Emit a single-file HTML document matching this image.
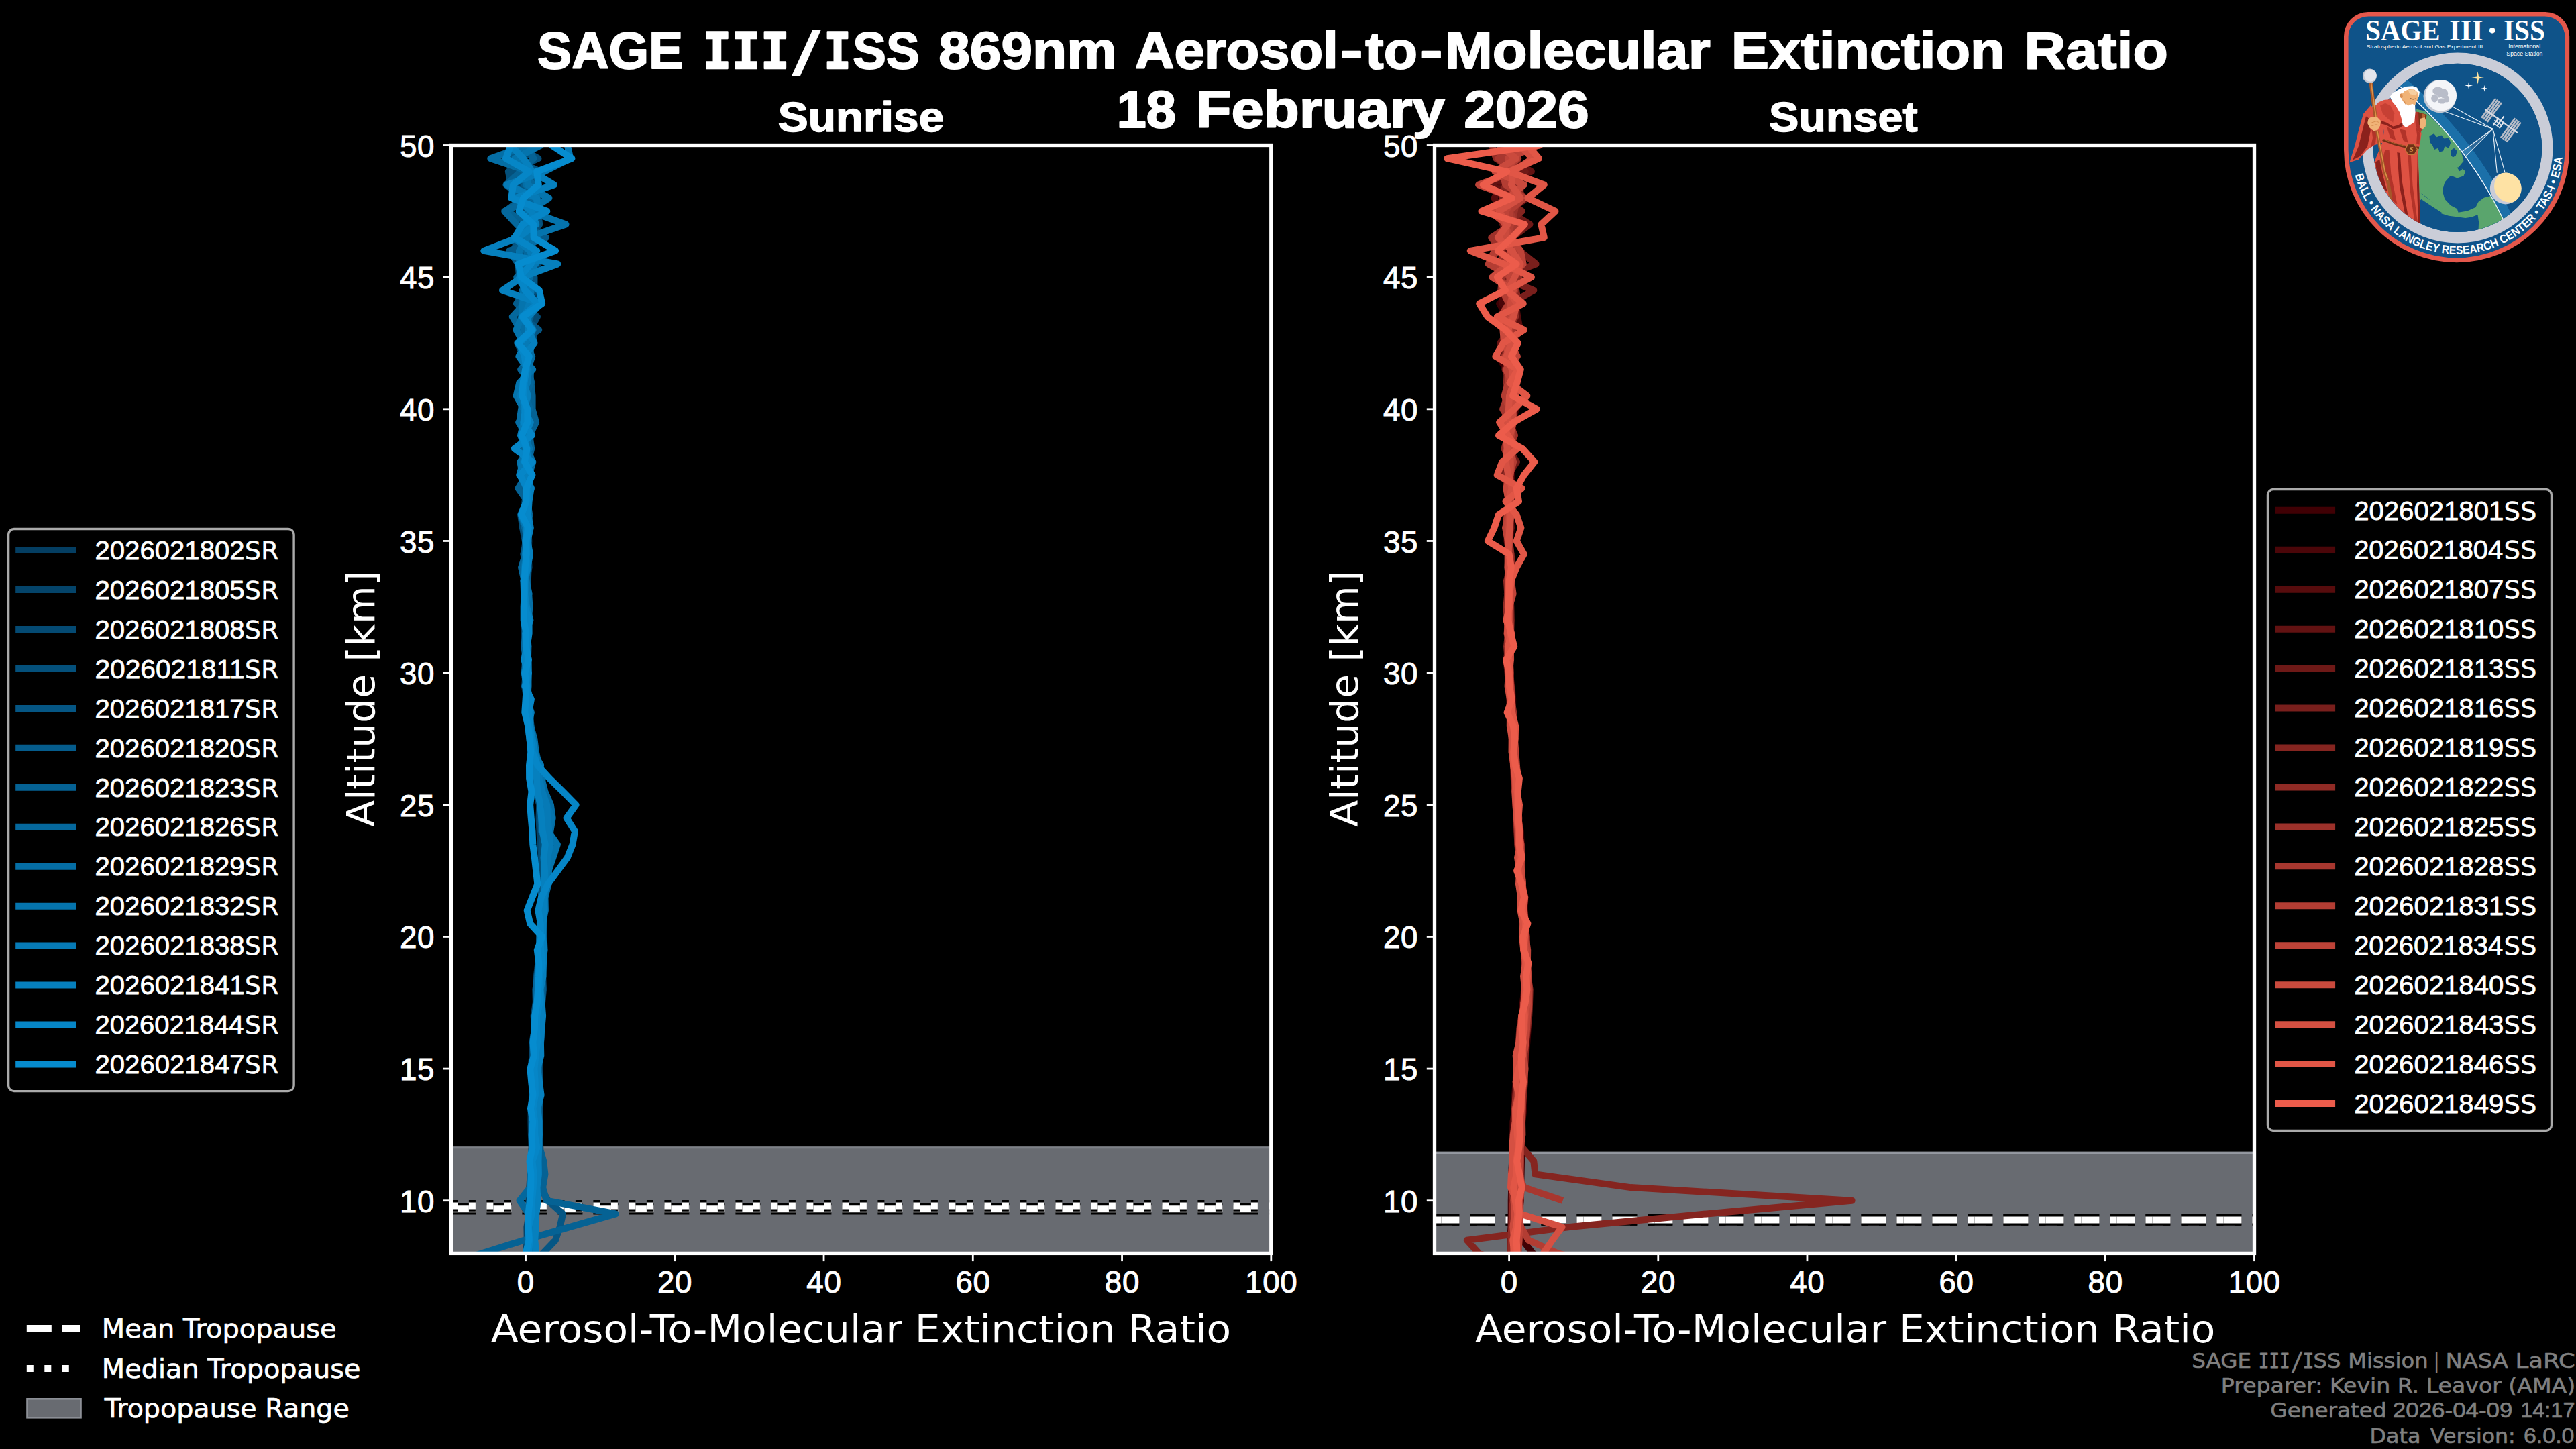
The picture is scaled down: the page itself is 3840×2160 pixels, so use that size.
<!DOCTYPE html>
<html lang="en"><head><meta charset="utf-8"><title>SAGE III/ISS 869nm Aerosol-to-Molecular Extinction Ratio</title>
<style>html,body{margin:0;padding:0;background:#000;overflow:hidden}svg{display:block}</style></head>
<body>
<svg width="3840" height="2160" viewBox="0 0 3840 2160">
<defs>
<clipPath id="cL"><rect x="672.4" y="216.5" width="1222.4" height="1651.9"/></clipPath>
<clipPath id="cR"><rect x="2138.5" y="216.5" width="1222.0" height="1651.9"/></clipPath>
</defs>
<rect width="3840" height="2160" fill="#000"/>
<g clip-path="url(#cL)">
<rect x="672.4" y="1710.4" width="1222.4" height="163.0" fill="#686b71"/>
<rect x="672.4" y="1708.71" width="1222.4" height="1.7" fill="#6a6d72"/>
<rect x="672.4" y="1710.41" width="1222.4" height="1.7" fill="#9da1aa"/>
<line x1="672.4" x2="1894.8" y1="1802.21" y2="1802.21" stroke="#000" stroke-width="16.67" stroke-dasharray="37 16"/>
<line x1="672.4" x2="1894.8" y1="1802.21" y2="1802.21" stroke="#fff" stroke-width="10" stroke-dasharray="37 16"/>
<line x1="672.4" x2="1894.8" y1="1797.41" y2="1797.41" stroke="#000" stroke-width="16.67" stroke-dasharray="10 16.5"/>
<line x1="672.4" x2="1894.8" y1="1797.41" y2="1797.41" stroke="#fff" stroke-width="10" stroke-dasharray="10 16.5"/>
<g fill="none" stroke-width="10" stroke-linejoin="round" stroke-linecap="butt">
<polyline points="794.1,1907.7 796.0,1888.1 796.7,1868.4 796.6,1848.7 798.0,1829.1 799.1,1809.4 801.2,1789.7 801.5,1770.1 803.0,1750.4 801.8,1730.7 805.3,1711.1 804.0,1691.4 804.6,1671.7 804.0,1652.1 803.8,1632.4 804.5,1612.7 804.7,1593.1 805.0,1573.4 806.2,1553.8 808.0,1534.1 807.8,1514.4 807.9,1494.8 810.1,1475.1 809.3,1455.4 808.4,1435.8 809.3,1416.1 809.6,1396.4 809.2,1376.8 809.4,1357.1 810.3,1337.4 811.6,1317.8 810.3,1298.1 807.7,1278.4 807.9,1258.8 806.7,1239.1 804.8,1219.4 804.4,1199.8 801.5,1180.1 799.0,1160.4 795.4,1140.8 794.5,1121.1 791.8,1101.4 791.0,1081.8 788.2,1062.1 787.6,1042.5 786.5,1022.8 784.5,1003.1 786.5,983.5 787.0,963.8 785.3,944.1 788.2,924.5 787.4,904.8 787.2,885.1 786.8,865.5 787.8,845.8 783.8,826.1 787.3,806.5 787.4,786.8 781.7,767.1 787.0,747.5 785.2,727.8 788.6,708.1 784.4,688.5 785.9,668.8 787.2,649.1 782.5,629.5 788.3,609.8 785.4,590.1 788.0,570.5 783.3,550.8 791.3,531.1 789.0,511.5 784.7,491.8 789.7,472.2 794.4,452.5 799.0,432.8 773.0,413.2 793.4,393.5 790.1,373.8 784.5,354.2 774.1,334.5 800.4,314.8 769.8,295.2 792.8,275.5 803.1,255.8 762.8,236.2 780.9,216.5 766.1,196.8 788.9,177.2" stroke="#043e62"/>
<polyline points="782.0,1907.7 783.6,1888.1 784.1,1868.4 785.8,1848.7 785.4,1829.1 788.6,1809.4 788.4,1789.7 789.3,1770.1 790.6,1750.4 791.1,1730.7 792.7,1711.1 791.9,1691.4 791.5,1671.7 791.7,1652.1 793.5,1632.4 792.5,1612.7 791.4,1593.1 793.5,1573.4 793.3,1553.8 797.3,1534.1 795.6,1514.4 798.8,1494.8 800.5,1475.1 799.8,1455.4 802.3,1435.8 803.9,1416.1 804.6,1396.4 805.1,1376.8 807.3,1357.1 807.0,1337.4 807.6,1317.8 807.2,1298.1 807.1,1278.4 805.5,1258.8 804.5,1239.1 803.5,1219.4 804.2,1199.8 798.2,1180.1 798.2,1160.4 794.6,1140.8 791.2,1121.1 789.6,1101.4 787.0,1081.8 786.3,1062.1 785.5,1042.5 782.0,1022.8 783.7,1003.1 782.2,983.5 782.6,963.8 781.4,944.1 781.2,924.5 782.0,904.8 784.8,885.1 786.3,865.5 783.4,845.8 785.5,826.1 782.8,806.5 779.0,786.8 783.7,767.1 784.6,747.5 781.9,727.8 784.4,708.1 785.4,688.5 780.0,668.8 777.4,649.1 782.3,629.5 782.3,609.8 781.6,590.1 788.0,570.5 792.0,550.8 780.9,531.1 787.2,511.5 789.1,491.8 788.0,472.2 790.9,452.5 780.0,432.8 789.4,413.2 802.2,393.5 791.4,373.8 776.1,354.2 790.4,334.5 799.1,314.8 787.9,295.2 775.2,275.5 805.3,255.8 764.2,236.2 790.9,216.5 782.7,196.8 764.3,177.2" stroke="#04446a"/>
<polyline points="793.3,1907.7 794.4,1888.1 794.8,1868.4 793.7,1848.7 794.0,1829.1 797.8,1809.4 798.6,1789.7 800.2,1770.1 800.1,1750.4 801.2,1730.7 800.5,1711.1 802.3,1691.4 801.5,1671.7 802.2,1652.1 802.3,1632.4 801.8,1612.7 802.2,1593.1 803.0,1573.4 804.8,1553.8 805.7,1534.1 805.8,1514.4 806.6,1494.8 809.5,1475.1 808.1,1455.4 809.3,1435.8 809.1,1416.1 808.5,1396.4 808.8,1376.8 810.2,1357.1 811.1,1337.4 812.7,1317.8 811.2,1298.1 809.7,1278.4 811.1,1258.8 812.8,1239.1 805.0,1219.4 807.6,1199.8 802.6,1180.1 799.3,1160.4 796.9,1140.8 794.6,1121.1 793.7,1101.4 790.2,1081.8 789.4,1062.1 788.1,1042.5 785.9,1022.8 786.5,1003.1 785.5,983.5 784.6,963.8 785.7,944.1 785.4,924.5 787.0,904.8 785.6,885.1 784.7,865.5 788.5,845.8 787.6,826.1 788.3,806.5 787.1,786.8 785.2,767.1 784.2,747.5 784.5,727.8 789.1,708.1 785.9,688.5 779.4,668.8 785.2,649.1 779.2,629.5 786.1,609.8 779.5,590.1 778.8,570.5 785.9,550.8 784.8,531.1 775.2,511.5 790.2,491.8 800.9,472.2 773.5,452.5 800.6,432.8 778.9,413.2 780.2,393.5 783.1,373.8 767.9,354.2 801.7,334.5 791.7,314.8 774.4,295.2 780.9,275.5 761.7,255.8 779.4,236.2 800.5,216.5 761.3,196.8 777.6,177.2" stroke="#044a73"/>
<polyline points="783.8,1907.7 784.6,1888.1 786.8,1868.4 787.9,1848.7 789.4,1829.1 791.1,1809.4 790.0,1789.7 791.6,1770.1 793.1,1750.4 792.5,1730.7 794.1,1711.1 795.6,1691.4 795.7,1671.7 795.7,1652.1 794.7,1632.4 794.4,1612.7 795.7,1593.1 795.4,1573.4 797.2,1553.8 799.2,1534.1 798.7,1514.4 799.9,1494.8 801.8,1475.1 803.3,1455.4 804.0,1435.8 804.5,1416.1 805.9,1396.4 804.8,1376.8 807.2,1357.1 809.1,1337.4 810.3,1317.8 809.2,1298.1 807.5,1278.4 807.6,1258.8 811.1,1239.1 807.8,1219.4 805.0,1199.8 805.7,1180.1 798.4,1160.4 798.2,1140.8 794.1,1121.1 789.4,1101.4 788.0,1081.8 786.2,1062.1 786.8,1042.5 783.6,1022.8 785.7,1003.1 784.8,983.5 781.0,963.8 785.2,944.1 786.6,924.5 782.6,904.8 785.8,885.1 780.4,865.5 784.4,845.8 780.3,826.1 785.0,806.5 779.2,786.8 776.1,767.1 785.2,747.5 792.2,727.8 781.4,708.1 787.3,688.5 784.3,668.8 782.3,649.1 786.6,629.5 791.6,609.8 777.4,590.1 786.8,570.5 785.7,550.8 775.0,531.1 794.0,511.5 797.4,491.8 776.3,472.2 798.1,452.5 784.1,432.8 782.0,413.2 799.5,393.5 786.2,373.8 787.6,354.2 804.2,334.5 801.9,314.8 796.8,295.2 761.6,275.5 757.9,255.8 802.5,236.2 767.1,216.5 786.0,196.8 764.5,177.2" stroke="#04507b"/>
<polyline points="772.4,1907.7 789.1,1888.1 809.1,1868.4 828.0,1848.7 834.6,1829.1 839.1,1809.4 816.9,1789.7 805.8,1770.1 797.8,1750.4 797.4,1730.7 800.1,1711.1 800.3,1691.4 800.6,1671.7 799.7,1652.1 800.9,1632.4 801.0,1612.7 798.6,1593.1 802.2,1573.4 802.0,1553.8 802.4,1534.1 803.8,1514.4 807.0,1494.8 807.0,1475.1 804.7,1455.4 807.1,1435.8 807.4,1416.1 807.8,1396.4 808.2,1376.8 808.2,1357.1 811.2,1337.4 810.1,1317.8 813.4,1298.1 816.3,1278.4 815.8,1258.8 816.4,1239.1 814.6,1219.4 818.0,1199.8 806.0,1180.1 804.5,1160.4 803.2,1140.8 795.4,1121.1 792.8,1101.4 790.1,1081.8 788.6,1062.1 787.6,1042.5 784.0,1022.8 787.5,1003.1 784.1,983.5 784.4,963.8 787.4,944.1 785.6,924.5 785.2,904.8 784.0,885.1 781.9,865.5 785.5,845.8 787.8,826.1 782.9,806.5 788.8,786.8 781.5,767.1 782.5,747.5 786.9,727.8 785.0,708.1 788.0,688.5 781.5,668.8 780.0,649.1 775.7,629.5 778.8,609.8 779.0,590.1 776.6,570.5 786.7,550.8 780.5,531.1 771.3,511.5 803.2,491.8 778.0,472.2 773.7,452.5 796.4,432.8 796.5,413.2 771.8,393.5 766.6,373.8 771.3,354.2 800.8,334.5 779.9,314.8 771.8,295.2 784.1,275.5 805.2,255.8 759.6,236.2 777.3,216.5 761.3,196.8 824.8,177.2" stroke="#055684"/>
<polyline points="787.8,1907.7 786.1,1888.1 785.8,1868.4 788.8,1848.7 790.2,1829.1 793.1,1809.4 795.3,1789.7 792.4,1770.1 797.3,1750.4 797.2,1730.7 797.2,1711.1 796.7,1691.4 798.9,1671.7 796.4,1652.1 795.8,1632.4 796.5,1612.7 794.9,1593.1 797.9,1573.4 798.4,1553.8 800.0,1534.1 801.2,1514.4 800.9,1494.8 804.7,1475.1 802.9,1455.4 805.7,1435.8 803.9,1416.1 806.8,1396.4 806.7,1376.8 808.8,1357.1 807.5,1337.4 804.8,1317.8 817.8,1298.1 817.1,1278.4 815.7,1258.8 807.0,1239.1 806.4,1219.4 814.5,1199.8 798.2,1180.1 801.3,1160.4 799.3,1140.8 796.0,1121.1 793.4,1101.4 789.9,1081.8 787.3,1062.1 786.5,1042.5 785.1,1022.8 782.5,1003.1 785.8,983.5 784.6,963.8 783.6,944.1 787.0,924.5 785.9,904.8 786.1,885.1 787.0,865.5 786.0,845.8 781.3,826.1 783.4,806.5 787.2,786.8 781.8,767.1 784.4,747.5 785.9,727.8 790.7,708.1 790.3,688.5 788.5,668.8 783.3,649.1 788.9,629.5 787.0,609.8 783.3,590.1 792.4,570.5 787.3,550.8 779.0,531.1 793.1,511.5 782.1,491.8 789.2,472.2 770.0,452.5 783.9,432.8 774.0,413.2 772.6,393.5 759.4,373.8 814.1,354.2 781.8,334.5 787.8,314.8 802.4,295.2 781.9,275.5 793.3,255.8 758.4,236.2 787.8,216.5 775.9,196.8 793.7,177.2" stroke="#055c8c"/>
<polyline points="594.6,1907.7 655.7,1888.1 718.0,1868.4 781.3,1848.7 849.1,1829.1 918.0,1809.4 814.6,1789.7 809.1,1770.1 812.4,1750.4 810.2,1730.7 804.6,1711.1 802.2,1691.4 803.8,1671.7 803.6,1652.1 805.2,1632.4 804.1,1612.7 803.2,1593.1 803.7,1573.4 805.4,1553.8 806.1,1534.1 805.9,1514.4 808.1,1494.8 808.7,1475.1 808.8,1455.4 808.8,1435.8 811.6,1416.1 810.6,1396.4 810.9,1376.8 808.6,1357.1 811.6,1337.4 816.8,1317.8 818.1,1298.1 818.3,1278.4 817.9,1258.8 817.9,1239.1 817.0,1219.4 814.9,1199.8 804.7,1180.1 806.9,1160.4 798.8,1140.8 795.7,1121.1 793.1,1101.4 791.6,1081.8 789.2,1062.1 786.8,1042.5 786.2,1022.8 786.3,1003.1 786.9,983.5 787.5,963.8 785.8,944.1 783.4,924.5 788.9,904.8 786.6,885.1 786.8,865.5 786.6,845.8 783.3,826.1 785.0,806.5 786.6,786.8 789.3,767.1 786.0,747.5 772.5,727.8 784.6,708.1 787.4,688.5 792.2,668.8 789.4,649.1 799.1,629.5 793.6,609.8 793.6,590.1 791.5,570.5 776.2,550.8 791.5,531.1 790.0,511.5 781.1,491.8 790.7,472.2 789.5,452.5 780.5,432.8 784.0,413.2 782.1,393.5 788.4,373.8 779.1,354.2 793.9,334.5 753.3,314.8 780.3,295.2 754.5,275.5 776.0,255.8 795.4,236.2 785.6,216.5 782.8,196.8 786.5,177.2" stroke="#056294"/>
<polyline points="783.8,1907.7 784.3,1888.1 785.8,1868.4 787.4,1848.7 788.3,1829.1 788.0,1809.4 774.6,1789.7 790.2,1770.1 793.5,1750.4 795.0,1730.7 793.5,1711.1 793.5,1691.4 795.2,1671.7 795.2,1652.1 793.9,1632.4 794.4,1612.7 792.6,1593.1 795.3,1573.4 794.8,1553.8 796.7,1534.1 797.8,1514.4 798.9,1494.8 798.5,1475.1 800.9,1455.4 803.3,1435.8 803.8,1416.1 804.3,1396.4 807.9,1376.8 808.3,1357.1 812.2,1337.4 815.4,1317.8 813.8,1298.1 812.9,1278.4 820.8,1258.8 817.0,1239.1 812.3,1219.4 809.0,1199.8 810.8,1180.1 806.8,1160.4 798.8,1140.8 795.6,1121.1 795.2,1101.4 788.3,1081.8 787.4,1062.1 785.0,1042.5 784.5,1022.8 783.8,1003.1 785.6,983.5 781.2,963.8 783.7,944.1 787.0,924.5 782.6,904.8 783.2,885.1 781.5,865.5 777.1,845.8 783.3,826.1 786.8,806.5 782.1,786.8 776.9,767.1 784.6,747.5 783.9,727.8 788.4,708.1 788.1,688.5 782.0,668.8 785.6,649.1 773.2,629.5 789.9,609.8 784.5,590.1 790.6,570.5 790.8,550.8 781.2,531.1 782.1,511.5 775.7,491.8 763.8,472.2 781.9,452.5 784.9,432.8 770.4,413.2 792.3,393.5 784.5,373.8 790.0,354.2 770.2,334.5 752.2,314.8 797.2,295.2 794.6,275.5 780.7,255.8 774.2,236.2 776.9,216.5 779.9,196.8 771.9,177.2" stroke="#05689d"/>
<polyline points="792.2,1907.7 791.1,1888.1 790.4,1868.4 794.7,1848.7 795.7,1829.1 799.1,1809.4 799.2,1789.7 799.2,1770.1 801.2,1750.4 798.6,1730.7 801.0,1711.1 800.4,1691.4 802.9,1671.7 801.5,1652.1 797.0,1632.4 802.4,1612.7 799.6,1593.1 802.8,1573.4 802.4,1553.8 804.4,1534.1 806.0,1514.4 806.3,1494.8 805.8,1475.1 809.0,1455.4 808.2,1435.8 808.2,1416.1 809.4,1396.4 808.6,1376.8 812.9,1357.1 812.5,1337.4 817.5,1317.8 818.0,1298.1 819.5,1278.4 817.6,1258.8 820.4,1239.1 823.7,1219.4 820.9,1199.8 812.4,1180.1 807.4,1160.4 803.4,1140.8 798.9,1121.1 796.4,1101.4 791.0,1081.8 787.6,1062.1 789.5,1042.5 785.5,1022.8 786.5,1003.1 782.8,983.5 787.0,963.8 783.9,944.1 787.8,924.5 789.4,904.8 788.2,885.1 782.5,865.5 782.9,845.8 783.0,826.1 787.3,806.5 786.5,786.8 785.9,767.1 786.6,747.5 788.0,727.8 788.6,708.1 794.3,688.5 785.0,668.8 786.4,649.1 774.2,629.5 777.1,609.8 780.6,590.1 776.9,570.5 786.8,550.8 793.2,531.1 781.5,511.5 780.7,491.8 780.0,472.2 786.4,452.5 778.8,432.8 790.2,413.2 789.0,393.5 790.0,373.8 797.2,354.2 785.4,334.5 787.5,314.8 818.4,295.2 783.9,275.5 789.1,255.8 731.3,236.2 786.9,216.5 774.4,196.8 766.2,177.2" stroke="#056ea5"/>
<polyline points="785.2,1907.7 787.4,1888.1 788.2,1868.4 787.4,1848.7 791.7,1829.1 789.7,1809.4 792.0,1789.7 793.7,1770.1 796.2,1750.4 794.4,1730.7 796.0,1711.1 797.3,1691.4 796.5,1671.7 797.1,1652.1 797.0,1632.4 796.0,1612.7 796.5,1593.1 798.0,1573.4 797.9,1553.8 801.0,1534.1 797.6,1514.4 800.2,1494.8 804.5,1475.1 804.0,1455.4 803.5,1435.8 805.6,1416.1 807.9,1396.4 806.6,1376.8 810.4,1357.1 811.6,1337.4 814.5,1317.8 817.6,1298.1 824.4,1278.4 830.9,1258.8 817.2,1239.1 822.7,1219.4 815.1,1199.8 807.6,1180.1 808.3,1160.4 799.7,1140.8 796.2,1121.1 793.8,1101.4 787.3,1081.8 791.9,1062.1 785.0,1042.5 784.5,1022.8 781.8,1003.1 783.4,983.5 787.2,963.8 784.2,944.1 785.4,924.5 783.0,904.8 788.5,885.1 784.5,865.5 780.6,845.8 786.2,826.1 782.9,806.5 786.0,786.8 784.4,767.1 785.0,747.5 784.4,727.8 778.9,708.1 775.4,688.5 789.3,668.8 782.8,649.1 785.4,629.5 780.6,609.8 769.7,590.1 774.2,570.5 794.2,550.8 777.0,531.1 780.1,511.5 769.5,491.8 777.8,472.2 779.0,452.5 780.4,432.8 782.0,413.2 774.0,393.5 773.9,373.8 785.7,354.2 843.5,334.5 789.1,314.8 817.1,295.2 786.6,275.5 785.7,255.8 767.3,236.2 806.2,216.5 761.3,196.8 761.3,177.2" stroke="#0574ad"/>
<polyline points="789.4,1907.7 788.5,1888.1 790.6,1868.4 790.5,1848.7 793.4,1829.1 794.0,1809.4 794.6,1789.7 794.0,1770.1 798.9,1750.4 799.0,1730.7 799.6,1711.1 797.5,1691.4 797.9,1671.7 800.6,1652.1 799.4,1632.4 797.3,1612.7 798.5,1593.1 799.7,1573.4 800.4,1553.8 800.5,1534.1 804.5,1514.4 804.7,1494.8 804.7,1475.1 803.4,1455.4 805.4,1435.8 806.5,1416.1 809.1,1396.4 807.9,1376.8 811.9,1357.1 811.7,1337.4 813.9,1317.8 814.9,1298.1 816.3,1278.4 820.4,1258.8 818.4,1239.1 816.3,1219.4 815.3,1199.8 808.5,1180.1 803.4,1160.4 806.1,1140.8 795.1,1121.1 791.0,1101.4 789.5,1081.8 786.8,1062.1 788.1,1042.5 786.6,1022.8 787.8,1003.1 787.0,983.5 786.6,963.8 787.5,944.1 784.1,924.5 783.6,904.8 784.6,885.1 781.3,865.5 784.2,845.8 783.7,826.1 786.7,806.5 784.5,786.8 776.7,767.1 784.6,747.5 791.6,727.8 774.2,708.1 780.0,688.5 784.4,668.8 776.0,649.1 780.7,629.5 784.6,609.8 774.8,590.1 786.4,570.5 787.4,550.8 773.4,531.1 784.3,511.5 794.6,491.8 782.1,472.2 788.9,452.5 791.9,432.8 780.7,413.2 798.2,393.5 789.9,373.8 766.3,354.2 793.4,334.5 800.7,314.8 800.2,295.2 755.7,275.5 811.3,255.8 850.2,236.2 845.8,216.5 839.1,196.8 815.2,177.2" stroke="#067ab6"/>
<polyline points="791.3,1907.7 795.9,1888.1 799.1,1868.4 797.3,1848.7 798.5,1829.1 799.2,1809.4 801.5,1789.7 800.5,1770.1 802.9,1750.4 802.5,1730.7 803.1,1711.1 803.9,1691.4 803.6,1671.7 801.3,1652.1 806.6,1632.4 803.9,1612.7 801.3,1593.1 806.3,1573.4 805.9,1553.8 807.3,1534.1 809.1,1514.4 807.6,1494.8 805.4,1475.1 809.5,1455.4 810.0,1435.8 811.2,1416.1 809.1,1396.4 809.7,1376.8 810.9,1357.1 811.2,1337.4 811.8,1317.8 812.0,1298.1 810.5,1278.4 812.8,1258.8 808.8,1239.1 807.1,1219.4 805.3,1199.8 801.3,1180.1 800.0,1160.4 800.0,1140.8 797.2,1121.1 793.7,1101.4 789.8,1081.8 790.7,1062.1 786.0,1042.5 787.5,1022.8 787.4,1003.1 787.6,983.5 784.0,963.8 783.0,944.1 790.4,924.5 785.1,904.8 782.0,885.1 782.9,865.5 786.4,845.8 790.0,826.1 786.3,806.5 790.8,786.8 787.3,767.1 788.6,747.5 791.6,727.8 784.2,708.1 788.2,688.5 784.0,668.8 782.3,649.1 790.8,629.5 780.7,609.8 787.0,590.1 780.2,570.5 785.6,550.8 781.7,531.1 796.5,511.5 787.2,491.8 787.3,472.2 806.3,452.5 749.0,432.8 778.0,413.2 831.3,393.5 721.3,373.8 772.4,354.2 799.1,334.5 792.0,314.8 767.7,295.2 826.0,275.5 793.6,255.8 780.0,236.2 761.3,216.5 797.0,196.8 773.7,177.2" stroke="#0680be"/>
<polyline points="786.4,1907.7 787.9,1888.1 787.8,1868.4 789.5,1848.7 787.9,1829.1 792.8,1809.4 793.1,1789.7 794.7,1770.1 795.8,1750.4 793.4,1730.7 800.4,1711.1 797.2,1691.4 797.2,1671.7 794.4,1652.1 797.9,1632.4 797.6,1612.7 796.5,1593.1 798.5,1573.4 801.1,1553.8 799.9,1534.1 800.2,1514.4 804.6,1494.8 804.3,1475.1 804.3,1455.4 808.5,1435.8 806.1,1416.1 806.2,1396.4 805.8,1376.8 802.4,1357.1 806.9,1337.4 816.9,1317.8 831.3,1298.1 845.8,1278.4 853.5,1258.8 856.9,1239.1 844.6,1219.4 858.5,1199.8 839.1,1180.1 819.1,1160.4 801.3,1140.8 793.5,1121.1 791.3,1101.4 790.2,1081.8 788.2,1062.1 791.9,1042.5 782.4,1022.8 787.7,1003.1 781.2,983.5 785.6,963.8 788.6,944.1 788.5,924.5 782.3,904.8 781.1,885.1 780.5,865.5 786.9,845.8 783.4,826.1 784.7,806.5 785.6,786.8 786.5,767.1 787.3,747.5 785.3,727.8 775.0,708.1 793.7,688.5 766.8,668.8 792.9,649.1 780.4,629.5 783.1,609.8 780.6,590.1 781.5,570.5 784.4,550.8 782.0,531.1 774.0,511.5 793.5,491.8 777.9,472.2 801.4,452.5 782.5,432.8 774.5,413.2 791.6,393.5 800.1,373.8 767.3,354.2 779.0,334.5 815.3,314.8 762.4,295.2 764.9,275.5 788.9,255.8 754.0,236.2 761.3,216.5 761.3,196.8 794.7,177.2" stroke="#0686c7"/>
<polyline points="781.8,1907.7 781.9,1888.1 783.7,1868.4 788.6,1848.7 787.4,1829.1 787.6,1809.4 789.9,1789.7 791.2,1770.1 791.5,1750.4 789.5,1730.7 793.4,1711.1 792.7,1691.4 794.3,1671.7 791.0,1652.1 794.6,1632.4 792.2,1612.7 790.4,1593.1 796.1,1573.4 794.4,1553.8 796.9,1534.1 797.2,1514.4 800.6,1494.8 802.1,1475.1 803.1,1455.4 803.4,1435.8 800.8,1416.1 808.0,1396.4 790.2,1376.8 785.7,1357.1 793.5,1337.4 801.3,1317.8 799.1,1298.1 796.9,1278.4 794.3,1258.8 793.5,1239.1 791.7,1219.4 790.2,1199.8 792.5,1180.1 789.1,1160.4 789.0,1140.8 791.4,1121.1 789.5,1101.4 787.1,1081.8 782.3,1062.1 783.6,1042.5 784.8,1022.8 782.4,1003.1 787.9,983.5 783.8,963.8 784.3,944.1 780.7,924.5 780.7,904.8 781.6,885.1 781.6,865.5 782.8,845.8 784.8,826.1 784.3,806.5 787.6,786.8 777.2,767.1 784.5,747.5 784.8,727.8 793.4,708.1 782.0,688.5 785.6,668.8 777.6,649.1 786.4,629.5 786.3,609.8 778.3,590.1 779.6,570.5 783.0,550.8 788.8,531.1 771.7,511.5 793.0,491.8 779.2,472.2 808.1,452.5 803.8,432.8 777.1,413.2 772.7,393.5 828.0,373.8 795.6,354.2 795.3,334.5 773.6,314.8 780.0,295.2 802.8,275.5 800.2,255.8 852.4,236.2 822.4,216.5 805.8,196.8 761.3,177.2" stroke="#068ccf"/>
</g></g>
<rect x="672.4" y="216.5" width="1222.4" height="1651.9" fill="none" stroke="#fff" stroke-width="5.33"/>
<g stroke="#fff" stroke-width="2.8">
<line x1="660.7" x2="672.4" y1="1789.74" y2="1789.74"/>
<line x1="660.7" x2="672.4" y1="1593.08" y2="1593.08"/>
<line x1="660.7" x2="672.4" y1="1396.43" y2="1396.43"/>
<line x1="660.7" x2="672.4" y1="1199.77" y2="1199.77"/>
<line x1="660.7" x2="672.4" y1="1003.12" y2="1003.12"/>
<line x1="660.7" x2="672.4" y1="806.46" y2="806.46"/>
<line x1="660.7" x2="672.4" y1="609.81" y2="609.81"/>
<line x1="660.7" x2="672.4" y1="413.15" y2="413.15"/>
<line x1="660.7" x2="672.4" y1="216.50" y2="216.50"/>
<line x1="783.53" x2="783.53" y1="1868.4" y2="1880.1"/>
<line x1="1005.78" x2="1005.78" y1="1868.4" y2="1880.1"/>
<line x1="1228.04" x2="1228.04" y1="1868.4" y2="1880.1"/>
<line x1="1450.29" x2="1450.29" y1="1868.4" y2="1880.1"/>
<line x1="1672.55" x2="1672.55" y1="1868.4" y2="1880.1"/>
<line x1="1894.80" x2="1894.80" y1="1868.4" y2="1880.1"/>
</g>
<g fill="#fff" stroke="#fff" stroke-width="1.0" font-family="'Liberation Sans', sans-serif" font-size="45.7" letter-spacing="0.7">
<text x="648.1" y="1806.7" text-anchor="end">10</text>
<text x="648.1" y="1610.1" text-anchor="end">15</text>
<text x="648.1" y="1413.4" text-anchor="end">20</text>
<text x="648.1" y="1216.8" text-anchor="end">25</text>
<text x="648.1" y="1020.1" text-anchor="end">30</text>
<text x="648.1" y="823.5" text-anchor="end">35</text>
<text x="648.1" y="626.8" text-anchor="end">40</text>
<text x="648.1" y="430.2" text-anchor="end">45</text>
<text x="648.1" y="233.5" text-anchor="end">50</text>
<text x="783.9" y="1926.9" text-anchor="middle">0</text>
<text x="1006.1" y="1926.9" text-anchor="middle">20</text>
<text x="1228.4" y="1926.9" text-anchor="middle">40</text>
<text x="1450.6" y="1926.9" text-anchor="middle">60</text>
<text x="1672.9" y="1926.9" text-anchor="middle">80</text>
<text x="1895.2" y="1926.9" text-anchor="middle">100</text>
</g>
<g clip-path="url(#cR)">
<rect x="2138.5" y="1718.2" width="1222.0" height="155.2" fill="#686b71"/>
<rect x="2138.5" y="1716.46" width="1222.0" height="1.7" fill="#6a6d72"/>
<rect x="2138.5" y="1718.16" width="1222.0" height="1.7" fill="#9da1aa"/>
<line x1="2138.5" x2="3360.5" y1="1818.45" y2="1818.45" stroke="#000" stroke-width="16.67" stroke-dasharray="37 16"/>
<line x1="2138.5" x2="3360.5" y1="1818.45" y2="1818.45" stroke="#fff" stroke-width="10" stroke-dasharray="37 16"/>
<line x1="2138.5" x2="3360.5" y1="1818.45" y2="1818.45" stroke="#000" stroke-width="16.67" stroke-dasharray="10 16.5"/>
<line x1="2138.5" x2="3360.5" y1="1818.45" y2="1818.45" stroke="#fff" stroke-width="10" stroke-dasharray="10 16.5"/>
<g fill="none" stroke-width="10" stroke-linejoin="round" stroke-linecap="butt">
<polyline points="2327.4,1907.7 2305.1,1888.1 2285.1,1868.4 2269.6,1848.7 2262.9,1829.1 2264.2,1809.4 2267.0,1789.7 2267.1,1770.1 2267.6,1750.4 2268.0,1730.7 2267.9,1711.1 2268.2,1691.4 2269.3,1671.7 2271.6,1652.1 2270.9,1632.4 2272.2,1612.7 2272.7,1593.1 2274.6,1573.4 2276.4,1553.8 2277.8,1534.1 2278.3,1514.4 2279.2,1494.8 2279.9,1475.1 2278.7,1455.4 2275.8,1435.8 2275.9,1416.1 2275.9,1396.4 2273.1,1376.8 2272.5,1357.1 2273.5,1337.4 2269.3,1317.8 2267.7,1298.1 2267.4,1278.4 2267.9,1258.8 2266.9,1239.1 2263.2,1219.4 2263.4,1199.8 2261.8,1180.1 2260.2,1160.4 2257.9,1140.8 2259.1,1121.1 2256.4,1101.4 2256.2,1081.8 2254.8,1062.1 2255.3,1042.5 2253.5,1022.8 2250.1,1003.1 2251.0,983.5 2252.5,963.8 2249.8,944.1 2250.9,924.5 2251.7,904.8 2249.3,885.1 2249.7,865.5 2249.0,845.8 2251.9,826.1 2250.6,806.5 2253.2,786.8 2251.8,767.1 2252.8,747.5 2251.4,727.8 2253.6,708.1 2251.4,688.5 2248.8,668.8 2255.4,649.1 2255.0,629.5 2259.7,609.8 2251.3,590.1 2249.4,570.5 2245.5,550.8 2233.6,531.1 2245.3,511.5 2254.6,491.8 2246.7,472.2 2235.2,452.5 2256.2,432.8 2247.7,413.2 2249.2,393.5 2248.3,373.8 2250.9,354.2 2257.0,334.5 2233.7,314.8 2249.7,295.2 2246.3,275.5 2266.1,255.8 2239.1,236.2 2274.0,216.5 2260.4,196.8 2273.8,177.2" stroke="#400004"/>
<polyline points="2250.7,1907.7 2252.2,1888.1 2252.1,1868.4 2251.0,1848.7 2252.4,1829.1 2252.7,1809.4 2252.7,1789.7 2253.2,1770.1 2253.0,1750.4 2254.2,1730.7 2255.2,1711.1 2255.2,1691.4 2255.5,1671.7 2258.5,1652.1 2258.3,1632.4 2259.6,1612.7 2260.3,1593.1 2261.7,1573.4 2264.4,1553.8 2265.9,1534.1 2268.7,1514.4 2270.0,1494.8 2272.2,1475.1 2273.0,1455.4 2274.6,1435.8 2272.2,1416.1 2272.7,1396.4 2270.3,1376.8 2269.2,1357.1 2267.2,1337.4 2266.4,1317.8 2266.8,1298.1 2265.1,1278.4 2262.5,1258.8 2261.4,1239.1 2261.7,1219.4 2259.1,1199.8 2259.1,1180.1 2256.5,1160.4 2256.6,1140.8 2256.2,1121.1 2254.4,1101.4 2252.8,1081.8 2251.6,1062.1 2250.3,1042.5 2249.2,1022.8 2249.3,1003.1 2249.4,983.5 2248.6,963.8 2246.6,944.1 2247.5,924.5 2248.6,904.8 2248.3,885.1 2246.3,865.5 2249.3,845.8 2252.4,826.1 2246.3,806.5 2248.5,786.8 2251.7,767.1 2247.5,747.5 2247.4,727.8 2248.9,708.1 2250.1,688.5 2247.3,668.8 2251.7,649.1 2242.0,629.5 2251.0,609.8 2250.1,590.1 2248.0,570.5 2250.5,550.8 2248.9,531.1 2255.7,511.5 2246.1,491.8 2248.5,472.2 2239.5,452.5 2240.7,432.8 2247.0,413.2 2235.8,393.5 2241.2,373.8 2235.9,354.2 2243.8,334.5 2250.3,314.8 2260.0,295.2 2225.4,275.5 2246.5,255.8 2260.6,236.2 2268.2,216.5 2268.6,196.8 2229.4,177.2" stroke="#4b0609"/>
<polyline points="2261.4,1907.7 2262.6,1888.1 2263.2,1868.4 2263.0,1848.7 2263.4,1829.1 2263.8,1809.4 2263.4,1789.7 2264.5,1770.1 2265.4,1750.4 2264.8,1730.7 2266.5,1711.1 2264.0,1691.4 2267.1,1671.7 2269.7,1652.1 2269.9,1632.4 2271.3,1612.7 2271.2,1593.1 2271.7,1573.4 2274.0,1553.8 2276.9,1534.1 2275.3,1514.4 2277.2,1494.8 2277.7,1475.1 2277.2,1455.4 2275.8,1435.8 2275.7,1416.1 2273.5,1396.4 2274.5,1376.8 2272.4,1357.1 2270.3,1337.4 2268.6,1317.8 2267.0,1298.1 2267.2,1278.4 2267.6,1258.8 2264.6,1239.1 2262.7,1219.4 2262.3,1199.8 2260.8,1180.1 2259.3,1160.4 2257.3,1140.8 2257.6,1121.1 2257.8,1101.4 2256.4,1081.8 2255.1,1062.1 2253.2,1042.5 2252.4,1022.8 2251.8,1003.1 2250.7,983.5 2251.1,963.8 2250.3,944.1 2252.3,924.5 2249.6,904.8 2251.9,885.1 2252.2,865.5 2252.2,845.8 2252.1,826.1 2250.2,806.5 2249.9,786.8 2250.2,767.1 2250.2,747.5 2248.2,727.8 2249.9,708.1 2249.3,688.5 2248.2,668.8 2252.5,649.1 2248.5,629.5 2252.2,609.8 2257.4,590.1 2258.9,570.5 2251.5,550.8 2256.7,531.1 2252.8,511.5 2265.9,491.8 2262.3,472.2 2259.4,452.5 2250.4,432.8 2249.6,413.2 2256.5,393.5 2251.4,373.8 2249.2,354.2 2259.5,334.5 2237.4,314.8 2227.5,295.2 2238.9,275.5 2236.5,255.8 2250.8,236.2 2239.4,216.5 2249.2,196.8 2222.8,177.2" stroke="#570c0d"/>
<polyline points="2254.8,1907.7 2254.1,1888.1 2253.3,1868.4 2254.7,1848.7 2256.0,1829.1 2256.0,1809.4 2255.6,1789.7 2256.6,1770.1 2257.2,1750.4 2255.7,1730.7 2255.9,1711.1 2257.6,1691.4 2259.9,1671.7 2261.2,1652.1 2261.0,1632.4 2263.1,1612.7 2263.6,1593.1 2264.4,1573.4 2265.5,1553.8 2267.7,1534.1 2270.5,1514.4 2273.8,1494.8 2275.5,1475.1 2273.1,1455.4 2272.6,1435.8 2273.5,1416.1 2272.0,1396.4 2269.8,1376.8 2270.0,1357.1 2269.5,1337.4 2267.8,1317.8 2266.0,1298.1 2266.0,1278.4 2263.3,1258.8 2261.9,1239.1 2260.4,1219.4 2261.8,1199.8 2260.8,1180.1 2257.8,1160.4 2257.2,1140.8 2255.9,1121.1 2255.2,1101.4 2254.3,1081.8 2252.7,1062.1 2250.8,1042.5 2249.2,1022.8 2247.5,1003.1 2245.5,983.5 2248.6,963.8 2247.6,944.1 2248.8,924.5 2248.6,904.8 2247.2,885.1 2248.0,865.5 2249.5,845.8 2249.2,826.1 2247.4,806.5 2247.4,786.8 2250.3,767.1 2249.6,747.5 2249.9,727.8 2248.6,708.1 2251.4,688.5 2249.4,668.8 2258.1,649.1 2247.4,629.5 2246.4,609.8 2256.4,590.1 2248.9,570.5 2245.4,550.8 2251.7,531.1 2236.1,511.5 2252.2,491.8 2249.6,472.2 2251.4,452.5 2243.2,432.8 2260.6,413.2 2252.5,393.5 2249.4,373.8 2253.5,354.2 2240.1,334.5 2248.2,314.8 2276.3,295.2 2214.0,275.5 2282.9,255.8 2251.5,236.2 2261.0,216.5 2239.9,196.8 2248.2,177.2" stroke="#621212"/>
<polyline points="2259.0,1907.7 2260.1,1888.1 2260.9,1868.4 2261.5,1848.7 2261.5,1829.1 2260.7,1809.4 2262.0,1789.7 2261.2,1770.1 2260.8,1750.4 2263.1,1730.7 2263.3,1711.1 2264.9,1691.4 2265.9,1671.7 2264.9,1652.1 2266.1,1632.4 2267.9,1612.7 2268.9,1593.1 2270.9,1573.4 2271.0,1553.8 2273.4,1534.1 2275.7,1514.4 2278.3,1494.8 2276.8,1475.1 2278.2,1455.4 2275.3,1435.8 2273.2,1416.1 2274.8,1396.4 2271.4,1376.8 2270.1,1357.1 2270.7,1337.4 2269.8,1317.8 2267.7,1298.1 2265.8,1278.4 2263.9,1258.8 2264.2,1239.1 2260.8,1219.4 2260.4,1199.8 2261.5,1180.1 2260.0,1160.4 2259.4,1140.8 2257.5,1121.1 2254.9,1101.4 2255.2,1081.8 2251.8,1062.1 2253.2,1042.5 2252.8,1022.8 2248.9,1003.1 2251.4,983.5 2250.2,963.8 2249.9,944.1 2247.3,924.5 2250.0,904.8 2251.6,885.1 2247.5,865.5 2249.5,845.8 2249.1,826.1 2247.3,806.5 2252.5,786.8 2250.4,767.1 2250.5,747.5 2253.1,727.8 2248.1,708.1 2261.0,688.5 2248.8,668.8 2246.2,649.1 2253.0,629.5 2252.1,609.8 2246.2,590.1 2246.2,570.5 2254.9,550.8 2252.3,531.1 2253.1,511.5 2256.3,491.8 2246.5,472.2 2260.3,452.5 2251.1,432.8 2257.1,413.2 2242.2,393.5 2258.7,373.8 2254.1,354.2 2280.5,334.5 2249.2,314.8 2271.2,295.2 2259.9,275.5 2273.7,255.8 2254.9,236.2 2258.9,216.5 2217.0,196.8 2231.6,177.2" stroke="#6e1917"/>
<polyline points="2256.2,1907.7 2255.8,1888.1 2256.4,1868.4 2255.9,1848.7 2257.3,1829.1 2256.6,1809.4 2257.3,1789.7 2258.9,1770.1 2259.1,1750.4 2258.1,1730.7 2258.9,1711.1 2260.0,1691.4 2260.5,1671.7 2261.5,1652.1 2261.6,1632.4 2264.0,1612.7 2263.4,1593.1 2265.2,1573.4 2269.0,1553.8 2271.5,1534.1 2273.5,1514.4 2274.0,1494.8 2275.1,1475.1 2275.6,1455.4 2275.7,1435.8 2273.4,1416.1 2271.9,1396.4 2269.5,1376.8 2268.3,1357.1 2270.4,1337.4 2266.2,1317.8 2265.8,1298.1 2265.0,1278.4 2264.3,1258.8 2261.7,1239.1 2262.3,1219.4 2261.1,1199.8 2259.5,1180.1 2257.7,1160.4 2256.7,1140.8 2254.1,1121.1 2255.4,1101.4 2253.1,1081.8 2251.1,1062.1 2251.3,1042.5 2250.8,1022.8 2249.5,1003.1 2249.9,983.5 2250.7,963.8 2248.4,944.1 2249.4,924.5 2249.5,904.8 2246.8,885.1 2251.0,865.5 2248.6,845.8 2249.7,826.1 2249.8,806.5 2247.5,786.8 2251.3,767.1 2251.9,747.5 2249.8,727.8 2240.3,708.1 2253.9,688.5 2248.9,668.8 2247.0,649.1 2247.1,629.5 2244.8,609.8 2247.8,590.1 2252.6,570.5 2243.5,550.8 2250.7,531.1 2245.9,511.5 2247.8,491.8 2246.9,472.2 2252.0,452.5 2286.3,432.8 2238.5,413.2 2289.6,393.5 2265.4,373.8 2233.0,354.2 2259.3,334.5 2245.7,314.8 2247.1,295.2 2263.5,275.5 2246.2,255.8 2240.0,236.2 2270.1,216.5 2266.7,196.8 2256.6,177.2" stroke="#791f1c"/>
<polyline points="2316.2,1907.7 2260.7,1888.1 2204.6,1868.4 2186.7,1848.7 2339.6,1829.1 2544.0,1809.4 2760.6,1789.7 2430.7,1770.1 2288.5,1750.4 2286.3,1730.7 2269.6,1711.1 2264.0,1691.4 2269.1,1671.7 2269.6,1652.1 2271.2,1632.4 2272.9,1612.7 2273.0,1593.1 2273.8,1573.4 2274.8,1553.8 2277.1,1534.1 2279.2,1514.4 2280.1,1494.8 2280.7,1475.1 2277.4,1455.4 2277.1,1435.8 2276.2,1416.1 2275.8,1396.4 2272.1,1376.8 2271.5,1357.1 2271.1,1337.4 2269.9,1317.8 2268.0,1298.1 2267.9,1278.4 2265.9,1258.8 2266.1,1239.1 2263.4,1219.4 2262.9,1199.8 2259.4,1180.1 2260.5,1160.4 2258.5,1140.8 2258.7,1121.1 2256.7,1101.4 2256.9,1081.8 2253.9,1062.1 2251.7,1042.5 2252.4,1022.8 2251.7,1003.1 2250.0,983.5 2249.2,963.8 2252.2,944.1 2252.7,924.5 2252.3,904.8 2251.3,885.1 2251.2,865.5 2254.2,845.8 2252.7,826.1 2249.5,806.5 2248.9,786.8 2252.8,767.1 2253.3,747.5 2249.5,727.8 2248.9,708.1 2254.8,688.5 2250.3,668.8 2254.8,649.1 2246.9,629.5 2247.2,609.8 2243.3,590.1 2251.4,570.5 2249.4,550.8 2241.6,531.1 2252.7,511.5 2248.0,491.8 2250.0,472.2 2263.1,452.5 2260.2,432.8 2256.4,413.2 2248.5,393.5 2238.7,373.8 2244.1,354.2 2247.1,334.5 2268.8,314.8 2239.0,295.2 2244.0,275.5 2251.9,255.8 2258.3,236.2 2270.1,216.5 2274.2,196.8 2249.6,177.2" stroke="#852520"/>
<polyline points="2254.3,1907.7 2253.3,1888.1 2252.1,1868.4 2252.3,1848.7 2253.3,1829.1 2253.9,1809.4 2255.4,1789.7 2254.1,1770.1 2254.7,1750.4 2254.8,1730.7 2256.3,1711.1 2255.5,1691.4 2258.4,1671.7 2258.0,1652.1 2259.5,1632.4 2261.1,1612.7 2261.9,1593.1 2266.1,1573.4 2264.1,1553.8 2265.2,1534.1 2268.2,1514.4 2272.7,1494.8 2273.1,1475.1 2274.8,1455.4 2273.1,1435.8 2273.2,1416.1 2269.9,1396.4 2271.3,1376.8 2270.3,1357.1 2267.0,1337.4 2268.1,1317.8 2268.3,1298.1 2264.4,1278.4 2262.3,1258.8 2261.5,1239.1 2260.7,1219.4 2260.8,1199.8 2260.5,1180.1 2257.1,1160.4 2256.1,1140.8 2253.8,1121.1 2253.5,1101.4 2253.4,1081.8 2249.6,1062.1 2251.4,1042.5 2250.6,1022.8 2249.9,1003.1 2247.6,983.5 2246.1,963.8 2248.0,944.1 2246.8,924.5 2245.5,904.8 2247.2,885.1 2246.0,865.5 2252.2,845.8 2250.0,826.1 2250.4,806.5 2246.1,786.8 2252.2,767.1 2247.6,747.5 2251.3,727.8 2245.3,708.1 2251.0,688.5 2242.4,668.8 2248.1,649.1 2247.8,629.5 2242.6,609.8 2249.0,590.1 2245.9,570.5 2246.7,550.8 2253.5,531.1 2257.5,511.5 2247.6,491.8 2259.1,472.2 2257.5,452.5 2255.8,432.8 2264.4,413.2 2233.3,393.5 2264.4,373.8 2253.9,354.2 2244.1,334.5 2247.0,314.8 2264.1,295.2 2267.6,275.5 2260.8,255.8 2230.2,236.2 2224.2,216.5 2250.3,196.8 2260.5,177.2" stroke="#902b25"/>
<polyline points="2260.0,1907.7 2261.9,1888.1 2261.9,1868.4 2262.2,1848.7 2261.3,1829.1 2263.8,1809.4 2264.0,1789.7 2264.7,1770.1 2264.1,1750.4 2262.7,1730.7 2264.8,1711.1 2266.2,1691.4 2266.1,1671.7 2266.0,1652.1 2268.7,1632.4 2269.7,1612.7 2268.6,1593.1 2270.9,1573.4 2271.8,1553.8 2275.0,1534.1 2276.2,1514.4 2279.1,1494.8 2277.6,1475.1 2278.6,1455.4 2275.6,1435.8 2275.2,1416.1 2272.6,1396.4 2272.7,1376.8 2271.0,1357.1 2270.2,1337.4 2269.4,1317.8 2268.5,1298.1 2267.7,1278.4 2265.6,1258.8 2263.5,1239.1 2264.3,1219.4 2262.1,1199.8 2260.3,1180.1 2261.2,1160.4 2258.9,1140.8 2258.2,1121.1 2254.5,1101.4 2254.4,1081.8 2256.2,1062.1 2253.4,1042.5 2252.2,1022.8 2249.5,1003.1 2250.3,983.5 2251.0,963.8 2250.4,944.1 2250.3,924.5 2247.5,904.8 2249.1,885.1 2249.8,865.5 2251.7,845.8 2251.7,826.1 2250.7,806.5 2249.0,786.8 2248.8,767.1 2251.5,747.5 2246.5,727.8 2250.0,708.1 2249.6,688.5 2249.8,668.8 2257.8,649.1 2250.2,629.5 2254.9,609.8 2259.1,590.1 2253.8,570.5 2250.9,550.8 2242.9,531.1 2262.0,511.5 2242.7,491.8 2234.5,472.2 2260.2,452.5 2237.3,432.8 2239.1,413.2 2243.2,393.5 2236.9,373.8 2223.2,354.2 2253.4,334.5 2257.7,314.8 2262.1,295.2 2250.2,275.5 2244.1,255.8 2241.5,236.2 2272.2,216.5 2265.6,196.8 2242.8,177.2" stroke="#9c312a"/>
<polyline points="2329.6,1789.7 2271.8,1770.1 2262.9,1750.4 2257.0,1730.7 2257.4,1711.1 2259.0,1691.4 2259.9,1671.7 2261.4,1652.1 2262.0,1632.4 2263.5,1612.7 2264.0,1593.1 2263.9,1573.4 2265.6,1553.8 2269.7,1534.1 2271.6,1514.4 2273.2,1494.8 2273.8,1475.1 2273.8,1455.4 2273.1,1435.8 2273.7,1416.1 2271.2,1396.4 2269.4,1376.8 2268.8,1357.1 2268.9,1337.4 2269.0,1317.8 2265.6,1298.1 2266.2,1278.4 2263.4,1258.8 2262.2,1239.1 2260.6,1219.4 2261.2,1199.8 2258.7,1180.1 2259.1,1160.4 2256.5,1140.8 2257.6,1121.1 2254.8,1101.4 2253.5,1081.8 2250.9,1062.1 2252.8,1042.5 2250.4,1022.8 2249.0,1003.1 2248.9,983.5 2248.2,963.8 2248.1,944.1 2249.6,924.5 2247.6,904.8 2248.8,885.1 2253.4,865.5 2248.8,845.8 2248.5,826.1 2251.1,806.5 2246.8,786.8 2253.0,767.1 2249.3,747.5 2245.5,727.8 2248.8,708.1 2246.7,688.5 2252.2,668.8 2247.4,649.1 2252.7,629.5 2240.1,609.8 2247.1,590.1 2252.7,570.5 2252.6,550.8 2249.9,531.1 2254.8,511.5 2255.5,491.8 2249.6,472.2 2251.5,452.5 2258.3,432.8 2251.4,413.2 2221.1,393.5 2230.7,373.8 2241.2,354.2 2259.3,334.5 2250.7,314.8 2259.8,295.2 2266.0,275.5 2259.0,255.8 2233.3,236.2 2265.2,216.5 2225.1,196.8 2226.3,177.2" stroke="#a7372f"/>
<polyline points="2494.0,1907.7 2405.1,1888.1 2321.8,1868.4 2278.5,1848.7 2267.4,1829.1 2262.9,1809.4 2258.3,1789.7 2261.6,1770.1 2260.6,1750.4 2260.4,1730.7 2260.5,1711.1 2262.9,1691.4 2263.7,1671.7 2264.7,1652.1 2265.1,1632.4 2264.8,1612.7 2269.2,1593.1 2270.2,1573.4 2270.4,1553.8 2271.1,1534.1 2273.0,1514.4 2276.5,1494.8 2277.9,1475.1 2276.5,1455.4 2276.4,1435.8 2273.5,1416.1 2274.7,1396.4 2272.2,1376.8 2270.0,1357.1 2270.2,1337.4 2268.8,1317.8 2266.5,1298.1 2268.1,1278.4 2263.1,1258.8 2264.0,1239.1 2263.0,1219.4 2260.6,1199.8 2260.3,1180.1 2260.5,1160.4 2256.6,1140.8 2255.5,1121.1 2255.2,1101.4 2255.0,1081.8 2254.6,1062.1 2252.8,1042.5 2249.4,1022.8 2251.4,1003.1 2250.9,983.5 2251.5,963.8 2247.1,944.1 2246.9,924.5 2248.6,904.8 2249.0,885.1 2249.8,865.5 2247.6,845.8 2247.6,826.1 2250.8,806.5 2244.5,786.8 2246.6,767.1 2249.9,747.5 2252.4,727.8 2250.9,708.1 2256.1,688.5 2251.1,668.8 2253.0,649.1 2253.7,629.5 2250.0,609.8 2242.6,590.1 2248.1,570.5 2248.4,550.8 2243.7,531.1 2254.4,511.5 2245.3,491.8 2236.6,472.2 2249.2,452.5 2239.2,432.8 2254.7,413.2 2218.8,393.5 2227.6,373.8 2248.8,354.2 2252.2,334.5 2249.7,314.8 2272.6,295.2 2244.2,275.5 2239.3,255.8 2263.2,236.2 2242.0,216.5 2255.6,196.8 2272.0,177.2" stroke="#b33d33"/>
<polyline points="2263.1,1907.7 2263.5,1888.1 2263.2,1868.4 2264.7,1848.7 2265.4,1829.1 2266.3,1809.4 2266.3,1789.7 2268.2,1770.1 2266.5,1750.4 2266.8,1730.7 2266.7,1711.1 2269.4,1691.4 2269.0,1671.7 2269.5,1652.1 2269.3,1632.4 2271.5,1612.7 2273.6,1593.1 2271.4,1573.4 2274.7,1553.8 2276.0,1534.1 2277.1,1514.4 2279.0,1494.8 2279.5,1475.1 2278.4,1455.4 2276.9,1435.8 2277.2,1416.1 2274.4,1396.4 2273.9,1376.8 2272.0,1357.1 2271.3,1337.4 2269.5,1317.8 2267.4,1298.1 2268.0,1278.4 2267.6,1258.8 2264.1,1239.1 2263.9,1219.4 2262.7,1199.8 2259.2,1180.1 2262.6,1160.4 2260.9,1140.8 2259.4,1121.1 2258.0,1101.4 2254.8,1081.8 2251.6,1062.1 2253.3,1042.5 2252.3,1022.8 2250.6,1003.1 2250.4,983.5 2252.7,963.8 2252.4,944.1 2251.1,924.5 2250.2,904.8 2255.6,885.1 2252.9,865.5 2251.4,845.8 2248.4,826.1 2247.7,806.5 2244.1,786.8 2250.5,767.1 2252.2,747.5 2250.7,727.8 2251.3,708.1 2252.3,688.5 2254.9,668.8 2243.2,649.1 2245.3,629.5 2255.9,609.8 2252.9,590.1 2254.4,570.5 2244.9,550.8 2261.9,531.1 2252.3,511.5 2249.5,491.8 2243.7,472.2 2253.2,452.5 2253.1,432.8 2250.2,413.2 2270.7,393.5 2266.8,373.8 2251.4,354.2 2243.0,334.5 2244.7,314.8 2257.2,295.2 2204.1,275.5 2257.2,255.8 2247.7,236.2 2293.2,216.5 2260.5,196.8 2248.8,177.2" stroke="#be4338"/>
<polyline points="2256.3,1907.7 2255.8,1888.1 2256.0,1868.4 2257.2,1848.7 2255.3,1829.1 2258.1,1809.4 2256.5,1789.7 2258.0,1770.1 2258.3,1750.4 2260.4,1730.7 2261.8,1711.1 2262.5,1691.4 2261.2,1671.7 2262.4,1652.1 2263.7,1632.4 2264.7,1612.7 2266.8,1593.1 2268.0,1573.4 2268.9,1553.8 2273.0,1534.1 2273.6,1514.4 2276.6,1494.8 2276.2,1475.1 2276.1,1455.4 2275.0,1435.8 2273.8,1416.1 2271.4,1396.4 2271.7,1376.8 2268.6,1357.1 2269.6,1337.4 2270.0,1317.8 2268.1,1298.1 2265.9,1278.4 2264.1,1258.8 2264.1,1239.1 2260.8,1219.4 2259.5,1199.8 2258.2,1180.1 2259.0,1160.4 2255.9,1140.8 2257.0,1121.1 2256.3,1101.4 2254.8,1081.8 2252.7,1062.1 2252.2,1042.5 2248.8,1022.8 2249.7,1003.1 2252.1,983.5 2251.9,963.8 2246.6,944.1 2249.3,924.5 2248.8,904.8 2251.4,885.1 2250.1,865.5 2249.3,845.8 2248.1,826.1 2250.0,806.5 2249.3,786.8 2249.9,767.1 2249.2,747.5 2245.3,727.8 2251.4,708.1 2251.7,688.5 2250.8,668.8 2251.1,649.1 2256.0,629.5 2255.7,609.8 2259.5,590.1 2254.3,570.5 2255.7,550.8 2250.5,531.1 2242.1,511.5 2240.4,491.8 2254.9,472.2 2251.5,452.5 2256.0,432.8 2224.4,413.2 2247.5,393.5 2251.6,373.8 2244.7,354.2 2245.8,334.5 2220.9,314.8 2247.8,295.2 2271.9,275.5 2228.4,255.8 2260.0,236.2 2234.9,216.5 2253.0,196.8 2278.0,177.2" stroke="#ca4a3d"/>
<polyline points="2282.9,1907.7 2288.5,1888.1 2300.7,1868.4 2314.0,1848.7 2328.5,1829.1 2266.3,1809.4 2260.7,1789.7 2252.0,1770.1 2252.9,1750.4 2255.1,1730.7 2254.0,1711.1 2255.9,1691.4 2258.9,1671.7 2258.9,1652.1 2263.7,1632.4 2259.9,1612.7 2261.1,1593.1 2259.7,1573.4 2264.4,1553.8 2266.2,1534.1 2269.7,1514.4 2271.5,1494.8 2273.0,1475.1 2271.1,1455.4 2274.1,1435.8 2271.3,1416.1 2269.1,1396.4 2270.5,1376.8 2266.5,1357.1 2267.0,1337.4 2264.0,1317.8 2265.0,1298.1 2262.1,1278.4 2266.6,1258.8 2263.2,1239.1 2261.3,1219.4 2260.0,1199.8 2259.2,1180.1 2258.3,1160.4 2256.4,1140.8 2253.6,1121.1 2254.0,1101.4 2250.8,1081.8 2251.0,1062.1 2250.9,1042.5 2247.6,1022.8 2248.8,1003.1 2247.3,983.5 2252.3,963.8 2247.4,944.1 2249.1,924.5 2249.4,904.8 2248.5,885.1 2248.9,865.5 2247.6,845.8 2248.6,826.1 2248.7,806.5 2250.6,786.8 2252.3,767.1 2248.3,747.5 2253.7,727.8 2248.5,708.1 2244.4,688.5 2246.5,668.8 2245.3,649.1 2247.5,629.5 2249.0,609.8 2250.0,590.1 2256.4,570.5 2254.0,550.8 2245.6,531.1 2253.2,511.5 2248.3,491.8 2256.2,472.2 2261.5,452.5 2247.8,432.8 2258.0,413.2 2266.5,393.5 2254.3,373.8 2233.0,354.2 2247.5,334.5 2234.3,314.8 2266.7,295.2 2253.0,275.5 2255.5,255.8 2284.8,236.2 2264.9,216.5 2252.3,196.8 2211.9,177.2" stroke="#d55042"/>
<polyline points="2256.0,1907.7 2255.9,1888.1 2257.4,1868.4 2255.2,1848.7 2260.3,1829.1 2262.4,1809.4 2258.7,1789.7 2256.2,1770.1 2260.6,1750.4 2260.1,1730.7 2263.6,1711.1 2261.8,1691.4 2261.0,1671.7 2260.3,1652.1 2264.7,1632.4 2259.7,1612.7 2263.8,1593.1 2270.1,1573.4 2269.6,1553.8 2271.6,1534.1 2272.8,1514.4 2271.5,1494.8 2275.8,1475.1 2277.0,1455.4 2276.2,1435.8 2271.2,1416.1 2273.1,1396.4 2274.1,1376.8 2271.2,1357.1 2273.2,1337.4 2268.2,1317.8 2262.8,1298.1 2265.8,1278.4 2265.1,1258.8 2265.2,1239.1 2263.6,1219.4 2265.0,1199.8 2261.5,1180.1 2259.3,1160.4 2256.3,1140.8 2255.9,1121.1 2258.7,1101.4 2259.1,1081.8 2254.0,1062.1 2252.5,1042.5 2250.1,1022.8 2250.4,1003.1 2249.8,983.5 2247.8,963.8 2253.2,944.1 2245.3,924.5 2250.4,904.8 2250.5,885.1 2252.8,865.5 2260.7,845.8 2271.8,826.1 2260.7,806.5 2267.4,786.8 2260.7,767.1 2244.5,747.5 2268.7,727.8 2231.8,708.1 2239.2,688.5 2261.9,668.8 2247.9,649.1 2235.2,629.5 2257.3,609.8 2276.4,590.1 2250.6,570.5 2262.9,550.8 2229.4,531.1 2240.7,511.5 2271.8,491.8 2231.8,472.2 2270.7,452.5 2246.3,432.8 2282.9,413.2 2241.8,393.5 2191.8,373.8 2301.8,354.2 2297.4,334.5 2318.5,314.8 2277.4,295.2 2301.8,275.5 2249.6,255.8 2294.0,236.2 2277.4,216.5 2260.7,196.8 2198.3,177.2" stroke="#e15646"/>
<polyline points="2259.7,1907.7 2259.0,1888.1 2261.5,1868.4 2260.7,1848.7 2262.5,1829.1 2264.7,1809.4 2263.8,1789.7 2268.7,1770.1 2265.0,1750.4 2261.3,1730.7 2264.4,1711.1 2265.7,1691.4 2265.0,1671.7 2267.5,1652.1 2268.1,1632.4 2270.9,1612.7 2268.2,1593.1 2267.8,1573.4 2270.8,1553.8 2268.5,1534.1 2268.1,1514.4 2273.7,1494.8 2276.5,1475.1 2274.9,1455.4 2278.5,1435.8 2271.7,1416.1 2270.4,1396.4 2277.4,1376.8 2267.2,1357.1 2271.9,1337.4 2268.5,1317.8 2261.1,1298.1 2268.9,1278.4 2264.4,1258.8 2265.0,1239.1 2263.4,1219.4 2262.5,1199.8 2262.8,1180.1 2264.9,1160.4 2258.9,1140.8 2256.6,1121.1 2258.2,1101.4 2255.9,1081.8 2246.6,1062.1 2253.8,1042.5 2250.1,1022.8 2249.3,1003.1 2245.1,983.5 2257.2,963.8 2252.1,944.1 2248.4,924.5 2248.5,904.8 2249.5,885.1 2249.8,865.5 2252.9,845.8 2249.6,826.1 2217.9,806.5 2227.4,786.8 2234.0,767.1 2264.0,747.5 2260.7,727.8 2271.8,708.1 2287.4,688.5 2269.6,668.8 2234.0,649.1 2256.3,629.5 2290.7,609.8 2255.1,590.1 2261.5,570.5 2266.8,550.8 2253.1,531.1 2262.9,511.5 2244.0,491.8 2217.4,472.2 2205.2,452.5 2244.0,432.8 2231.8,413.2 2260.7,393.5 2232.9,373.8 2254.0,354.2 2272.9,334.5 2208.5,314.8 2254.0,295.2 2210.7,275.5 2246.3,255.8 2157.4,236.2 2295.1,216.5 2316.2,196.8 2307.3,177.2" stroke="#ec5c4b"/>
</g></g>
<rect x="2138.5" y="216.5" width="1222.0" height="1651.9" fill="none" stroke="#fff" stroke-width="5.33"/>
<g stroke="#fff" stroke-width="2.8">
<line x1="2126.8" x2="2138.5" y1="1789.74" y2="1789.74"/>
<line x1="2126.8" x2="2138.5" y1="1593.08" y2="1593.08"/>
<line x1="2126.8" x2="2138.5" y1="1396.43" y2="1396.43"/>
<line x1="2126.8" x2="2138.5" y1="1199.77" y2="1199.77"/>
<line x1="2126.8" x2="2138.5" y1="1003.12" y2="1003.12"/>
<line x1="2126.8" x2="2138.5" y1="806.46" y2="806.46"/>
<line x1="2126.8" x2="2138.5" y1="609.81" y2="609.81"/>
<line x1="2126.8" x2="2138.5" y1="413.15" y2="413.15"/>
<line x1="2126.8" x2="2138.5" y1="216.50" y2="216.50"/>
<line x1="2249.59" x2="2249.59" y1="1868.4" y2="1880.1"/>
<line x1="2471.77" x2="2471.77" y1="1868.4" y2="1880.1"/>
<line x1="2693.95" x2="2693.95" y1="1868.4" y2="1880.1"/>
<line x1="2916.14" x2="2916.14" y1="1868.4" y2="1880.1"/>
<line x1="3138.32" x2="3138.32" y1="1868.4" y2="1880.1"/>
<line x1="3360.50" x2="3360.50" y1="1868.4" y2="1880.1"/>
</g>
<g fill="#fff" stroke="#fff" stroke-width="1.0" font-family="'Liberation Sans', sans-serif" font-size="45.7" letter-spacing="0.7">
<text x="2114.2" y="1806.7" text-anchor="end">10</text>
<text x="2114.2" y="1610.1" text-anchor="end">15</text>
<text x="2114.2" y="1413.4" text-anchor="end">20</text>
<text x="2114.2" y="1216.8" text-anchor="end">25</text>
<text x="2114.2" y="1020.1" text-anchor="end">30</text>
<text x="2114.2" y="823.5" text-anchor="end">35</text>
<text x="2114.2" y="626.8" text-anchor="end">40</text>
<text x="2114.2" y="430.2" text-anchor="end">45</text>
<text x="2114.2" y="233.5" text-anchor="end">50</text>
<text x="2249.9" y="1926.9" text-anchor="middle">0</text>
<text x="2472.1" y="1926.9" text-anchor="middle">20</text>
<text x="2694.3" y="1926.9" text-anchor="middle">40</text>
<text x="2916.5" y="1926.9" text-anchor="middle">60</text>
<text x="3138.7" y="1926.9" text-anchor="middle">80</text>
<text x="3360.8" y="1926.9" text-anchor="middle">100</text>
</g>
<text><tspan x="801.04" y="102.10" font-family="'Liberation Sans', sans-serif" font-weight="bold" font-size="78" fill="#fff" stroke="#fff" stroke-width="2" stroke-linejoin="round" textLength="217.14" lengthAdjust="spacingAndGlyphs">SAGE</tspan> <tspan x="1047.18" y="102.10" font-family="'DejaVu Sans Mono', 'Liberation Mono', monospace" font-weight="bold" font-size="75.5" fill="#fff" stroke="#fff" stroke-width="2.4" stroke-linejoin="round" textLength="129.91" lengthAdjust="spacingAndGlyphs">III</tspan><tspan x="1184.39" y="111.40" font-family="'Liberation Sans', sans-serif" font-weight="bold" font-style="italic" font-size="91.6" fill="#fff" textLength="29.87" lengthAdjust="spacingAndGlyphs">/</tspan><tspan x="1227.88" y="102.10" font-family="'DejaVu Sans Mono', 'Liberation Mono', monospace" font-weight="bold" font-size="75.5" fill="#fff" stroke="#fff" stroke-width="2.4" stroke-linejoin="round" textLength="41.04" lengthAdjust="spacingAndGlyphs">I</tspan><tspan x="1271.29" y="102.10" font-family="'Liberation Sans', sans-serif" font-weight="bold" font-size="78" fill="#fff" stroke="#fff" stroke-width="2" stroke-linejoin="round" textLength="99.30" lengthAdjust="spacingAndGlyphs">SS</tspan> <tspan x="1399.25" y="102.10" font-family="'Liberation Sans', sans-serif" font-weight="bold" font-size="78" fill="#fff" stroke="#fff" stroke-width="2" stroke-linejoin="round" textLength="265.42" lengthAdjust="spacingAndGlyphs">869nm</tspan> <tspan x="1691.86" y="102.10" font-family="'Liberation Sans', sans-serif" font-weight="bold" font-size="78" fill="#fff" stroke="#fff" stroke-width="2" stroke-linejoin="round" textLength="302.92" lengthAdjust="spacingAndGlyphs">Aerosol</tspan><tspan x="1998.02" y="102.10" font-family="'Liberation Sans', sans-serif" font-weight="bold" font-size="78" fill="#fff" stroke="#fff" stroke-width="2" stroke-linejoin="round" textLength="33.64" lengthAdjust="spacingAndGlyphs">-</tspan><tspan x="2035.30" y="102.10" font-family="'Liberation Sans', sans-serif" font-weight="bold" font-size="78" fill="#fff" stroke="#fff" stroke-width="2" stroke-linejoin="round" textLength="77.59" lengthAdjust="spacingAndGlyphs">to</tspan><tspan x="2117.01" y="102.10" font-family="'Liberation Sans', sans-serif" font-weight="bold" font-size="78" fill="#fff" stroke="#fff" stroke-width="2" stroke-linejoin="round" textLength="33.64" lengthAdjust="spacingAndGlyphs">-</tspan><tspan x="2154.17" y="102.10" font-family="'Liberation Sans', sans-serif" font-weight="bold" font-size="78" fill="#fff" stroke="#fff" stroke-width="2" stroke-linejoin="round" textLength="395.52" lengthAdjust="spacingAndGlyphs">Molecular</tspan> <tspan x="2580.89" y="102.10" font-family="'Liberation Sans', sans-serif" font-weight="bold" font-size="78" fill="#fff" stroke="#fff" stroke-width="2" stroke-linejoin="round" textLength="407.63" lengthAdjust="spacingAndGlyphs">Extinction</tspan> <tspan x="3017.61" y="102.10" font-family="'Liberation Sans', sans-serif" font-weight="bold" font-size="78" fill="#fff" stroke="#fff" stroke-width="2" stroke-linejoin="round" textLength="214.09" lengthAdjust="spacingAndGlyphs">Ratio</tspan></text>
<text><tspan x="1664.42" y="190.10" font-family="'Liberation Sans', sans-serif" font-weight="bold" font-size="78" fill="#fff" stroke="#fff" stroke-width="2" stroke-linejoin="round" textLength="88.51" lengthAdjust="spacingAndGlyphs">18</tspan> <tspan x="1782.64" y="190.10" font-family="'Liberation Sans', sans-serif" font-weight="bold" font-size="78" fill="#fff" stroke="#fff" stroke-width="2" stroke-linejoin="round" textLength="371.18" lengthAdjust="spacingAndGlyphs">February</tspan> <tspan x="2182.15" y="190.10" font-family="'Liberation Sans', sans-serif" font-weight="bold" font-size="78" fill="#fff" stroke="#fff" stroke-width="2" stroke-linejoin="round" textLength="186.61" lengthAdjust="spacingAndGlyphs">2026</tspan></text>
<text x="1159.72" y="196.00" font-family="'Liberation Sans', sans-serif" font-weight="bold" font-size="62.6" fill="#fff" stroke="#fff" stroke-width="1.6" stroke-linejoin="round" textLength="247.43" lengthAdjust="spacingAndGlyphs">Sunrise</text>
<text x="2637.04" y="196.00" font-family="'Liberation Sans', sans-serif" font-weight="bold" font-size="62.6" fill="#fff" stroke="#fff" stroke-width="1.6" stroke-linejoin="round" textLength="221.60" lengthAdjust="spacingAndGlyphs">Sunset</text>
<text x="731.70" y="2001.10" font-family="'DejaVu Sans', 'Liberation Sans', sans-serif" font-weight="normal" font-size="57.6" fill="#fff" textLength="1103.52" lengthAdjust="spacingAndGlyphs">Aerosol-To-Molecular Extinction Ratio</text>
<text x="2198.90" y="2001.10" font-family="'DejaVu Sans', 'Liberation Sans', sans-serif" font-weight="normal" font-size="57.6" fill="#fff" textLength="1103.52" lengthAdjust="spacingAndGlyphs">Aerosol-To-Molecular Extinction Ratio</text>
<text x="0.00" y="0.00" font-family="'DejaVu Sans', 'Liberation Sans', sans-serif" font-weight="normal" font-size="57.6" fill="#fff" textLength="382.32" lengthAdjust="spacingAndGlyphs" transform="translate(558.3,1232.7) rotate(-90)">Altitude [km]</text>
<text x="0.00" y="0.00" font-family="'DejaVu Sans', 'Liberation Sans', sans-serif" font-weight="normal" font-size="57.6" fill="#fff" textLength="382.32" lengthAdjust="spacingAndGlyphs" transform="translate(2024.4,1232.7) rotate(-90)">Altitude [km]</text>
<rect x="12.6" y="788.5" width="425.5" height="838.1" rx="8.3" ry="8.3" fill="#000" stroke="#aaaaaa" stroke-width="3.4"/>
<line x1="23.2" x2="113.1" y1="820.10" y2="820.10" stroke="#043e62" stroke-width="10"/>
<text><tspan x="141.45" y="833.80" font-family="'Liberation Sans', sans-serif" font-weight="normal" font-size="38.4" fill="#fff" stroke="#fff" stroke-width="0.8" stroke-linejoin="round" textLength="223.16" lengthAdjust="spacingAndGlyphs">2026021802</tspan><tspan x="364.77" y="833.80" font-family="'DejaVu Sans', 'Liberation Sans', sans-serif" font-weight="normal" font-size="37.7" fill="#fff" stroke="#fff" stroke-width="0.4" stroke-linejoin="round" textLength="50.82" lengthAdjust="spacingAndGlyphs">SR</tspan></text>
<line x1="23.2" x2="113.1" y1="879.05" y2="879.05" stroke="#04446a" stroke-width="10"/>
<text><tspan x="141.45" y="892.75" font-family="'Liberation Sans', sans-serif" font-weight="normal" font-size="38.4" fill="#fff" stroke="#fff" stroke-width="0.8" stroke-linejoin="round" textLength="223.16" lengthAdjust="spacingAndGlyphs">2026021805</tspan><tspan x="364.77" y="892.75" font-family="'DejaVu Sans', 'Liberation Sans', sans-serif" font-weight="normal" font-size="37.7" fill="#fff" stroke="#fff" stroke-width="0.4" stroke-linejoin="round" textLength="50.82" lengthAdjust="spacingAndGlyphs">SR</tspan></text>
<line x1="23.2" x2="113.1" y1="938.00" y2="938.00" stroke="#044a73" stroke-width="10"/>
<text><tspan x="141.45" y="951.70" font-family="'Liberation Sans', sans-serif" font-weight="normal" font-size="38.4" fill="#fff" stroke="#fff" stroke-width="0.8" stroke-linejoin="round" textLength="223.16" lengthAdjust="spacingAndGlyphs">2026021808</tspan><tspan x="364.77" y="951.70" font-family="'DejaVu Sans', 'Liberation Sans', sans-serif" font-weight="normal" font-size="37.7" fill="#fff" stroke="#fff" stroke-width="0.4" stroke-linejoin="round" textLength="50.82" lengthAdjust="spacingAndGlyphs">SR</tspan></text>
<line x1="23.2" x2="113.1" y1="996.95" y2="996.95" stroke="#04507b" stroke-width="10"/>
<text><tspan x="141.44" y="1010.65" font-family="'Liberation Sans', sans-serif" font-weight="normal" font-size="38.4" fill="#fff" stroke="#fff" stroke-width="0.8" stroke-linejoin="round" textLength="223.19" lengthAdjust="spacingAndGlyphs">2026021811</tspan><tspan x="364.77" y="1010.65" font-family="'DejaVu Sans', 'Liberation Sans', sans-serif" font-weight="normal" font-size="37.7" fill="#fff" stroke="#fff" stroke-width="0.4" stroke-linejoin="round" textLength="50.82" lengthAdjust="spacingAndGlyphs">SR</tspan></text>
<line x1="23.2" x2="113.1" y1="1055.90" y2="1055.90" stroke="#055684" stroke-width="10"/>
<text><tspan x="141.45" y="1069.60" font-family="'Liberation Sans', sans-serif" font-weight="normal" font-size="38.4" fill="#fff" stroke="#fff" stroke-width="0.8" stroke-linejoin="round" textLength="223.16" lengthAdjust="spacingAndGlyphs">2026021817</tspan><tspan x="364.77" y="1069.60" font-family="'DejaVu Sans', 'Liberation Sans', sans-serif" font-weight="normal" font-size="37.7" fill="#fff" stroke="#fff" stroke-width="0.4" stroke-linejoin="round" textLength="50.82" lengthAdjust="spacingAndGlyphs">SR</tspan></text>
<line x1="23.2" x2="113.1" y1="1114.85" y2="1114.85" stroke="#055c8c" stroke-width="10"/>
<text><tspan x="141.45" y="1128.55" font-family="'Liberation Sans', sans-serif" font-weight="normal" font-size="38.4" fill="#fff" stroke="#fff" stroke-width="0.8" stroke-linejoin="round" textLength="223.16" lengthAdjust="spacingAndGlyphs">2026021820</tspan><tspan x="364.77" y="1128.55" font-family="'DejaVu Sans', 'Liberation Sans', sans-serif" font-weight="normal" font-size="37.7" fill="#fff" stroke="#fff" stroke-width="0.4" stroke-linejoin="round" textLength="50.82" lengthAdjust="spacingAndGlyphs">SR</tspan></text>
<line x1="23.2" x2="113.1" y1="1173.80" y2="1173.80" stroke="#056294" stroke-width="10"/>
<text><tspan x="141.45" y="1187.50" font-family="'Liberation Sans', sans-serif" font-weight="normal" font-size="38.4" fill="#fff" stroke="#fff" stroke-width="0.8" stroke-linejoin="round" textLength="223.16" lengthAdjust="spacingAndGlyphs">2026021823</tspan><tspan x="364.77" y="1187.50" font-family="'DejaVu Sans', 'Liberation Sans', sans-serif" font-weight="normal" font-size="37.7" fill="#fff" stroke="#fff" stroke-width="0.4" stroke-linejoin="round" textLength="50.82" lengthAdjust="spacingAndGlyphs">SR</tspan></text>
<line x1="23.2" x2="113.1" y1="1232.75" y2="1232.75" stroke="#05689d" stroke-width="10"/>
<text><tspan x="141.45" y="1246.45" font-family="'Liberation Sans', sans-serif" font-weight="normal" font-size="38.4" fill="#fff" stroke="#fff" stroke-width="0.8" stroke-linejoin="round" textLength="223.16" lengthAdjust="spacingAndGlyphs">2026021826</tspan><tspan x="364.77" y="1246.45" font-family="'DejaVu Sans', 'Liberation Sans', sans-serif" font-weight="normal" font-size="37.7" fill="#fff" stroke="#fff" stroke-width="0.4" stroke-linejoin="round" textLength="50.82" lengthAdjust="spacingAndGlyphs">SR</tspan></text>
<line x1="23.2" x2="113.1" y1="1291.70" y2="1291.70" stroke="#056ea5" stroke-width="10"/>
<text><tspan x="141.45" y="1305.40" font-family="'Liberation Sans', sans-serif" font-weight="normal" font-size="38.4" fill="#fff" stroke="#fff" stroke-width="0.8" stroke-linejoin="round" textLength="223.16" lengthAdjust="spacingAndGlyphs">2026021829</tspan><tspan x="364.77" y="1305.40" font-family="'DejaVu Sans', 'Liberation Sans', sans-serif" font-weight="normal" font-size="37.7" fill="#fff" stroke="#fff" stroke-width="0.4" stroke-linejoin="round" textLength="50.82" lengthAdjust="spacingAndGlyphs">SR</tspan></text>
<line x1="23.2" x2="113.1" y1="1350.65" y2="1350.65" stroke="#0574ad" stroke-width="10"/>
<text><tspan x="141.45" y="1364.35" font-family="'Liberation Sans', sans-serif" font-weight="normal" font-size="38.4" fill="#fff" stroke="#fff" stroke-width="0.8" stroke-linejoin="round" textLength="223.16" lengthAdjust="spacingAndGlyphs">2026021832</tspan><tspan x="364.77" y="1364.35" font-family="'DejaVu Sans', 'Liberation Sans', sans-serif" font-weight="normal" font-size="37.7" fill="#fff" stroke="#fff" stroke-width="0.4" stroke-linejoin="round" textLength="50.82" lengthAdjust="spacingAndGlyphs">SR</tspan></text>
<line x1="23.2" x2="113.1" y1="1409.60" y2="1409.60" stroke="#067ab6" stroke-width="10"/>
<text><tspan x="141.45" y="1423.30" font-family="'Liberation Sans', sans-serif" font-weight="normal" font-size="38.4" fill="#fff" stroke="#fff" stroke-width="0.8" stroke-linejoin="round" textLength="223.16" lengthAdjust="spacingAndGlyphs">2026021838</tspan><tspan x="364.77" y="1423.30" font-family="'DejaVu Sans', 'Liberation Sans', sans-serif" font-weight="normal" font-size="37.7" fill="#fff" stroke="#fff" stroke-width="0.4" stroke-linejoin="round" textLength="50.82" lengthAdjust="spacingAndGlyphs">SR</tspan></text>
<line x1="23.2" x2="113.1" y1="1468.55" y2="1468.55" stroke="#0680be" stroke-width="10"/>
<text><tspan x="141.45" y="1482.25" font-family="'Liberation Sans', sans-serif" font-weight="normal" font-size="38.4" fill="#fff" stroke="#fff" stroke-width="0.8" stroke-linejoin="round" textLength="223.16" lengthAdjust="spacingAndGlyphs">2026021841</tspan><tspan x="364.77" y="1482.25" font-family="'DejaVu Sans', 'Liberation Sans', sans-serif" font-weight="normal" font-size="37.7" fill="#fff" stroke="#fff" stroke-width="0.4" stroke-linejoin="round" textLength="50.82" lengthAdjust="spacingAndGlyphs">SR</tspan></text>
<line x1="23.2" x2="113.1" y1="1527.50" y2="1527.50" stroke="#0686c7" stroke-width="10"/>
<text><tspan x="141.46" y="1541.20" font-family="'Liberation Sans', sans-serif" font-weight="normal" font-size="38.4" fill="#fff" stroke="#fff" stroke-width="0.8" stroke-linejoin="round" textLength="222.11" lengthAdjust="spacingAndGlyphs">2026021844</tspan><tspan x="364.77" y="1541.20" font-family="'DejaVu Sans', 'Liberation Sans', sans-serif" font-weight="normal" font-size="37.7" fill="#fff" stroke="#fff" stroke-width="0.4" stroke-linejoin="round" textLength="50.82" lengthAdjust="spacingAndGlyphs">SR</tspan></text>
<line x1="23.2" x2="113.1" y1="1586.45" y2="1586.45" stroke="#068ccf" stroke-width="10"/>
<text><tspan x="141.45" y="1600.15" font-family="'Liberation Sans', sans-serif" font-weight="normal" font-size="38.4" fill="#fff" stroke="#fff" stroke-width="0.8" stroke-linejoin="round" textLength="223.16" lengthAdjust="spacingAndGlyphs">2026021847</tspan><tspan x="364.77" y="1600.15" font-family="'DejaVu Sans', 'Liberation Sans', sans-serif" font-weight="normal" font-size="37.7" fill="#fff" stroke="#fff" stroke-width="0.4" stroke-linejoin="round" textLength="50.82" lengthAdjust="spacingAndGlyphs">SR</tspan></text>
<rect x="3380.5" y="729.5" width="423.0" height="956.0" rx="8.3" ry="8.3" fill="#000" stroke="#aaaaaa" stroke-width="3.4"/>
<line x1="3391.0" x2="3481.1" y1="760.80" y2="760.80" stroke="#400004" stroke-width="10"/>
<text><tspan x="3509.15" y="774.50" font-family="'Liberation Sans', sans-serif" font-weight="normal" font-size="38.4" fill="#fff" stroke="#fff" stroke-width="0.8" stroke-linejoin="round" textLength="223.16" lengthAdjust="spacingAndGlyphs">2026021801</tspan><tspan x="3732.45" y="774.50" font-family="'DejaVu Sans', 'Liberation Sans', sans-serif" font-weight="normal" font-size="37.7" fill="#fff" stroke="#fff" stroke-width="0.4" stroke-linejoin="round" textLength="49.13" lengthAdjust="spacingAndGlyphs">SS</tspan></text>
<line x1="3391.0" x2="3481.1" y1="819.75" y2="819.75" stroke="#4b0609" stroke-width="10"/>
<text><tspan x="3509.16" y="833.45" font-family="'Liberation Sans', sans-serif" font-weight="normal" font-size="38.4" fill="#fff" stroke="#fff" stroke-width="0.8" stroke-linejoin="round" textLength="222.11" lengthAdjust="spacingAndGlyphs">2026021804</tspan><tspan x="3732.45" y="833.45" font-family="'DejaVu Sans', 'Liberation Sans', sans-serif" font-weight="normal" font-size="37.7" fill="#fff" stroke="#fff" stroke-width="0.4" stroke-linejoin="round" textLength="49.13" lengthAdjust="spacingAndGlyphs">SS</tspan></text>
<line x1="3391.0" x2="3481.1" y1="878.70" y2="878.70" stroke="#570c0d" stroke-width="10"/>
<text><tspan x="3509.15" y="892.40" font-family="'Liberation Sans', sans-serif" font-weight="normal" font-size="38.4" fill="#fff" stroke="#fff" stroke-width="0.8" stroke-linejoin="round" textLength="223.16" lengthAdjust="spacingAndGlyphs">2026021807</tspan><tspan x="3732.45" y="892.40" font-family="'DejaVu Sans', 'Liberation Sans', sans-serif" font-weight="normal" font-size="37.7" fill="#fff" stroke="#fff" stroke-width="0.4" stroke-linejoin="round" textLength="49.13" lengthAdjust="spacingAndGlyphs">SS</tspan></text>
<line x1="3391.0" x2="3481.1" y1="937.65" y2="937.65" stroke="#621212" stroke-width="10"/>
<text><tspan x="3509.15" y="951.35" font-family="'Liberation Sans', sans-serif" font-weight="normal" font-size="38.4" fill="#fff" stroke="#fff" stroke-width="0.8" stroke-linejoin="round" textLength="223.16" lengthAdjust="spacingAndGlyphs">2026021810</tspan><tspan x="3732.45" y="951.35" font-family="'DejaVu Sans', 'Liberation Sans', sans-serif" font-weight="normal" font-size="37.7" fill="#fff" stroke="#fff" stroke-width="0.4" stroke-linejoin="round" textLength="49.13" lengthAdjust="spacingAndGlyphs">SS</tspan></text>
<line x1="3391.0" x2="3481.1" y1="996.60" y2="996.60" stroke="#6e1917" stroke-width="10"/>
<text><tspan x="3509.15" y="1010.30" font-family="'Liberation Sans', sans-serif" font-weight="normal" font-size="38.4" fill="#fff" stroke="#fff" stroke-width="0.8" stroke-linejoin="round" textLength="223.16" lengthAdjust="spacingAndGlyphs">2026021813</tspan><tspan x="3732.45" y="1010.30" font-family="'DejaVu Sans', 'Liberation Sans', sans-serif" font-weight="normal" font-size="37.7" fill="#fff" stroke="#fff" stroke-width="0.4" stroke-linejoin="round" textLength="49.13" lengthAdjust="spacingAndGlyphs">SS</tspan></text>
<line x1="3391.0" x2="3481.1" y1="1055.55" y2="1055.55" stroke="#791f1c" stroke-width="10"/>
<text><tspan x="3509.15" y="1069.25" font-family="'Liberation Sans', sans-serif" font-weight="normal" font-size="38.4" fill="#fff" stroke="#fff" stroke-width="0.8" stroke-linejoin="round" textLength="223.16" lengthAdjust="spacingAndGlyphs">2026021816</tspan><tspan x="3732.45" y="1069.25" font-family="'DejaVu Sans', 'Liberation Sans', sans-serif" font-weight="normal" font-size="37.7" fill="#fff" stroke="#fff" stroke-width="0.4" stroke-linejoin="round" textLength="49.13" lengthAdjust="spacingAndGlyphs">SS</tspan></text>
<line x1="3391.0" x2="3481.1" y1="1114.50" y2="1114.50" stroke="#852520" stroke-width="10"/>
<text><tspan x="3509.15" y="1128.20" font-family="'Liberation Sans', sans-serif" font-weight="normal" font-size="38.4" fill="#fff" stroke="#fff" stroke-width="0.8" stroke-linejoin="round" textLength="223.16" lengthAdjust="spacingAndGlyphs">2026021819</tspan><tspan x="3732.45" y="1128.20" font-family="'DejaVu Sans', 'Liberation Sans', sans-serif" font-weight="normal" font-size="37.7" fill="#fff" stroke="#fff" stroke-width="0.4" stroke-linejoin="round" textLength="49.13" lengthAdjust="spacingAndGlyphs">SS</tspan></text>
<line x1="3391.0" x2="3481.1" y1="1173.45" y2="1173.45" stroke="#902b25" stroke-width="10"/>
<text><tspan x="3509.15" y="1187.15" font-family="'Liberation Sans', sans-serif" font-weight="normal" font-size="38.4" fill="#fff" stroke="#fff" stroke-width="0.8" stroke-linejoin="round" textLength="223.16" lengthAdjust="spacingAndGlyphs">2026021822</tspan><tspan x="3732.45" y="1187.15" font-family="'DejaVu Sans', 'Liberation Sans', sans-serif" font-weight="normal" font-size="37.7" fill="#fff" stroke="#fff" stroke-width="0.4" stroke-linejoin="round" textLength="49.13" lengthAdjust="spacingAndGlyphs">SS</tspan></text>
<line x1="3391.0" x2="3481.1" y1="1232.40" y2="1232.40" stroke="#9c312a" stroke-width="10"/>
<text><tspan x="3509.15" y="1246.10" font-family="'Liberation Sans', sans-serif" font-weight="normal" font-size="38.4" fill="#fff" stroke="#fff" stroke-width="0.8" stroke-linejoin="round" textLength="223.16" lengthAdjust="spacingAndGlyphs">2026021825</tspan><tspan x="3732.45" y="1246.10" font-family="'DejaVu Sans', 'Liberation Sans', sans-serif" font-weight="normal" font-size="37.7" fill="#fff" stroke="#fff" stroke-width="0.4" stroke-linejoin="round" textLength="49.13" lengthAdjust="spacingAndGlyphs">SS</tspan></text>
<line x1="3391.0" x2="3481.1" y1="1291.35" y2="1291.35" stroke="#a7372f" stroke-width="10"/>
<text><tspan x="3509.15" y="1305.05" font-family="'Liberation Sans', sans-serif" font-weight="normal" font-size="38.4" fill="#fff" stroke="#fff" stroke-width="0.8" stroke-linejoin="round" textLength="223.16" lengthAdjust="spacingAndGlyphs">2026021828</tspan><tspan x="3732.45" y="1305.05" font-family="'DejaVu Sans', 'Liberation Sans', sans-serif" font-weight="normal" font-size="37.7" fill="#fff" stroke="#fff" stroke-width="0.4" stroke-linejoin="round" textLength="49.13" lengthAdjust="spacingAndGlyphs">SS</tspan></text>
<line x1="3391.0" x2="3481.1" y1="1350.30" y2="1350.30" stroke="#b33d33" stroke-width="10"/>
<text><tspan x="3509.15" y="1364.00" font-family="'Liberation Sans', sans-serif" font-weight="normal" font-size="38.4" fill="#fff" stroke="#fff" stroke-width="0.8" stroke-linejoin="round" textLength="223.16" lengthAdjust="spacingAndGlyphs">2026021831</tspan><tspan x="3732.45" y="1364.00" font-family="'DejaVu Sans', 'Liberation Sans', sans-serif" font-weight="normal" font-size="37.7" fill="#fff" stroke="#fff" stroke-width="0.4" stroke-linejoin="round" textLength="49.13" lengthAdjust="spacingAndGlyphs">SS</tspan></text>
<line x1="3391.0" x2="3481.1" y1="1409.25" y2="1409.25" stroke="#be4338" stroke-width="10"/>
<text><tspan x="3509.16" y="1422.95" font-family="'Liberation Sans', sans-serif" font-weight="normal" font-size="38.4" fill="#fff" stroke="#fff" stroke-width="0.8" stroke-linejoin="round" textLength="222.11" lengthAdjust="spacingAndGlyphs">2026021834</tspan><tspan x="3732.45" y="1422.95" font-family="'DejaVu Sans', 'Liberation Sans', sans-serif" font-weight="normal" font-size="37.7" fill="#fff" stroke="#fff" stroke-width="0.4" stroke-linejoin="round" textLength="49.13" lengthAdjust="spacingAndGlyphs">SS</tspan></text>
<line x1="3391.0" x2="3481.1" y1="1468.20" y2="1468.20" stroke="#ca4a3d" stroke-width="10"/>
<text><tspan x="3509.15" y="1481.90" font-family="'Liberation Sans', sans-serif" font-weight="normal" font-size="38.4" fill="#fff" stroke="#fff" stroke-width="0.8" stroke-linejoin="round" textLength="223.16" lengthAdjust="spacingAndGlyphs">2026021840</tspan><tspan x="3732.45" y="1481.90" font-family="'DejaVu Sans', 'Liberation Sans', sans-serif" font-weight="normal" font-size="37.7" fill="#fff" stroke="#fff" stroke-width="0.4" stroke-linejoin="round" textLength="49.13" lengthAdjust="spacingAndGlyphs">SS</tspan></text>
<line x1="3391.0" x2="3481.1" y1="1527.15" y2="1527.15" stroke="#d55042" stroke-width="10"/>
<text><tspan x="3509.15" y="1540.85" font-family="'Liberation Sans', sans-serif" font-weight="normal" font-size="38.4" fill="#fff" stroke="#fff" stroke-width="0.8" stroke-linejoin="round" textLength="223.16" lengthAdjust="spacingAndGlyphs">2026021843</tspan><tspan x="3732.45" y="1540.85" font-family="'DejaVu Sans', 'Liberation Sans', sans-serif" font-weight="normal" font-size="37.7" fill="#fff" stroke="#fff" stroke-width="0.4" stroke-linejoin="round" textLength="49.13" lengthAdjust="spacingAndGlyphs">SS</tspan></text>
<line x1="3391.0" x2="3481.1" y1="1586.10" y2="1586.10" stroke="#e15646" stroke-width="10"/>
<text><tspan x="3509.15" y="1599.80" font-family="'Liberation Sans', sans-serif" font-weight="normal" font-size="38.4" fill="#fff" stroke="#fff" stroke-width="0.8" stroke-linejoin="round" textLength="223.16" lengthAdjust="spacingAndGlyphs">2026021846</tspan><tspan x="3732.45" y="1599.80" font-family="'DejaVu Sans', 'Liberation Sans', sans-serif" font-weight="normal" font-size="37.7" fill="#fff" stroke="#fff" stroke-width="0.4" stroke-linejoin="round" textLength="49.13" lengthAdjust="spacingAndGlyphs">SS</tspan></text>
<line x1="3391.0" x2="3481.1" y1="1645.05" y2="1645.05" stroke="#ec5c4b" stroke-width="10"/>
<text><tspan x="3509.15" y="1658.75" font-family="'Liberation Sans', sans-serif" font-weight="normal" font-size="38.4" fill="#fff" stroke="#fff" stroke-width="0.8" stroke-linejoin="round" textLength="223.16" lengthAdjust="spacingAndGlyphs">2026021849</tspan><tspan x="3732.45" y="1658.75" font-family="'DejaVu Sans', 'Liberation Sans', sans-serif" font-weight="normal" font-size="37.7" fill="#fff" stroke="#fff" stroke-width="0.4" stroke-linejoin="round" textLength="49.13" lengthAdjust="spacingAndGlyphs">SS</tspan></text>
<line x1="39.8" x2="120" y1="1980.1" y2="1980.1" stroke="#fff" stroke-width="10" stroke-dasharray="37 16"/>
<line x1="39.8" x2="120" y1="2040" y2="2040" stroke="#fff" stroke-width="10" stroke-dasharray="10 16.5"/>
<rect x="40.5" y="2085.3" width="80" height="28" fill="#686b71" stroke="#8c8f96" stroke-width="2.6"/>
<text x="151.77" y="1993.80" font-family="'DejaVu Sans', 'Liberation Sans', sans-serif" font-weight="normal" font-size="38.8" fill="#fff" stroke="#fff" stroke-width="0.7" stroke-linejoin="round" textLength="349.70" lengthAdjust="spacingAndGlyphs">Mean Tropopause</text>
<text x="151.77" y="2053.70" font-family="'DejaVu Sans', 'Liberation Sans', sans-serif" font-weight="normal" font-size="38.8" fill="#fff" stroke="#fff" stroke-width="0.7" stroke-linejoin="round" textLength="385.70" lengthAdjust="spacingAndGlyphs">Median Tropopause</text>
<text x="155.87" y="2113.00" font-family="'DejaVu Sans', 'Liberation Sans', sans-serif" font-weight="normal" font-size="38.8" fill="#fff" stroke="#fff" stroke-width="0.7" stroke-linejoin="round" textLength="364.99" lengthAdjust="spacingAndGlyphs">Tropopause Range</text>
<text><tspan x="3267.28" y="2038.60" font-family="'DejaVu Sans', 'Liberation Sans', sans-serif" font-weight="normal" font-size="30.7" fill="#808080" stroke="#808080" stroke-width="0.6" stroke-linejoin="round" textLength="88.80" lengthAdjust="spacingAndGlyphs">SAGE</tspan> <tspan x="3366.82" y="2038.60" font-family="'DejaVu Sans Mono', 'Liberation Mono', monospace" font-weight="normal" font-size="30.7" fill="#808080" stroke="#808080" stroke-width="0.9" stroke-linejoin="round" textLength="46.83" lengthAdjust="spacingAndGlyphs">III</tspan><tspan x="3418.41" y="2042.30" font-family="'DejaVu Sans', 'Liberation Sans', sans-serif" font-weight="normal" font-style="italic" font-size="37.5" fill="#808080" stroke="#808080" stroke-width="0.7" stroke-linejoin="round" textLength="10.77" lengthAdjust="spacingAndGlyphs">/</tspan><tspan x="3432.40" y="2038.60" font-family="'DejaVu Sans Mono', 'Liberation Mono', monospace" font-weight="normal" font-size="30.7" fill="#808080" stroke="#808080" stroke-width="0.9" stroke-linejoin="round" textLength="16.91" lengthAdjust="spacingAndGlyphs">I</tspan><tspan x="3448.60" y="2038.60" font-family="'DejaVu Sans', 'Liberation Sans', sans-serif" font-weight="normal" font-size="30.7" fill="#808080" stroke="#808080" stroke-width="0.6" stroke-linejoin="round" textLength="40.96" lengthAdjust="spacingAndGlyphs">SS</tspan> <tspan x="3500.35" y="2038.60" font-family="'DejaVu Sans', 'Liberation Sans', sans-serif" font-weight="normal" font-size="30.7" fill="#808080" stroke="#808080" stroke-width="0.6" stroke-linejoin="round" textLength="119.32" lengthAdjust="spacingAndGlyphs">Mission</tspan> <tspan x="3627.60" y="2038.60" font-family="'DejaVu Sans', 'Liberation Sans', sans-serif" font-weight="normal" font-size="30.7" fill="#808080" textLength="9.31" lengthAdjust="spacingAndGlyphs">|</tspan> <tspan x="3645.40" y="2038.60" font-family="'DejaVu Sans', 'Liberation Sans', sans-serif" font-weight="normal" font-size="30.7" fill="#808080" stroke="#808080" stroke-width="0.6" stroke-linejoin="round" textLength="93.39" lengthAdjust="spacingAndGlyphs">NASA</tspan> <tspan x="3749.64" y="2038.60" font-family="'DejaVu Sans', 'Liberation Sans', sans-serif" font-weight="normal" font-size="30.7" fill="#808080" stroke="#808080" stroke-width="0.6" stroke-linejoin="round" textLength="89.01" lengthAdjust="spacingAndGlyphs">LaRC</tspan></text>
<text x="3310.86" y="2076.40" font-family="'DejaVu Sans', 'Liberation Sans', sans-serif" font-weight="normal" font-size="30.7" fill="#808080" stroke="#808080" stroke-width="0.6" stroke-linejoin="round" textLength="528.27" lengthAdjust="spacingAndGlyphs">Preparer: Kevin R. Leavor (AMA)</text>
<text><tspan x="3384.34" y="2113.40" font-family="'DejaVu Sans', 'Liberation Sans', sans-serif" font-weight="normal" font-size="30.7" fill="#808080" stroke="#808080" stroke-width="0.6" stroke-linejoin="round" textLength="173.30" lengthAdjust="spacingAndGlyphs">Generated</tspan> <tspan x="3566.89" y="2113.40" font-family="'Liberation Sans', sans-serif" font-weight="normal" font-size="31.4" fill="#808080" stroke="#808080" stroke-width="0.6" stroke-linejoin="round" textLength="178.53" lengthAdjust="spacingAndGlyphs">2026-04-09</tspan> <tspan x="3757.23" y="2113.40" font-family="'Liberation Sans', sans-serif" font-weight="normal" font-size="31.4" fill="#808080" stroke="#808080" stroke-width="0.6" stroke-linejoin="round" textLength="81.28" lengthAdjust="spacingAndGlyphs">14:17</tspan></text>
<text><tspan x="3532.59" y="2150.70" font-family="'DejaVu Sans', 'Liberation Sans', sans-serif" font-weight="normal" font-size="30.7" fill="#808080" stroke="#808080" stroke-width="0.6" stroke-linejoin="round" textLength="75.98" lengthAdjust="spacingAndGlyphs">Data</tspan> <tspan x="3622.80" y="2150.70" font-family="'DejaVu Sans', 'Liberation Sans', sans-serif" font-weight="normal" font-size="30.7" fill="#808080" stroke="#808080" stroke-width="0.6" stroke-linejoin="round" textLength="126.94" lengthAdjust="spacingAndGlyphs">Version:</tspan> <tspan x="3761.92" y="2150.70" font-family="'Liberation Sans', sans-serif" font-weight="normal" font-size="31.4" fill="#808080" stroke="#808080" stroke-width="0.6" stroke-linejoin="round" textLength="75.58" lengthAdjust="spacingAndGlyphs">6.0.0</tspan></text>
<g id="logo">
<defs>
<clipPath id="lgIn"><circle cx="3663.5" cy="220.4" r="125.7"/></clipPath>
<clipPath id="lgWiz"><rect x="3490" y="80" width="150" height="163"/><circle cx="3663.5" cy="220.4" r="125.7"/></clipPath>
<path id="lgArc" d="M3510.7 260.9 A157.3 157.3 0 0 0 3819.9 210.5"/>
</defs>
<path d="M3530.0 18.0 H3794.2 A36.0 36.0 0 0 1 3830.2 54.0 V223.2 A168.1 168.1 0 0 1 3494.0 223.2 V54.0 A36.0 36.0 0 0 1 3530.0 18.0Z" fill="#e4574b"/>
<path d="M3530.6 24.4 H3793.4 A30.0 30.0 0 0 1 3823.4 54.4 V223.2 A161.4 161.4 0 0 1 3500.6 223.2 V54.4 A30.0 30.0 0 0 1 3530.6 24.4Z" fill="#0f5389"/>
<circle cx="3663.5" cy="220.4" r="133.85" fill="#0f5389" stroke="#cacdd8" stroke-width="16.30"/>
<g clip-path="url(#lgIn)">
<circle cx="3194.4" cy="585.1" r="608.8" fill="#1b70a9"/>
<circle cx="3194.4" cy="585.1" r="595.8" fill="#0f5389" stroke="#e8f2fa" stroke-width="1.3"/>
<path d="M3602.1 162.8 L3614.5 165.6 L3625.6 176.6 L3639.4 190.4 L3653.2 204.2 L3662.8 216.6 L3669.7 229.0 L3672.5 240.1 L3665.6 248.4 L3675.2 255.3 L3672.5 262.2 L3662.8 265.5 L3653.2 261.6 L3644.3 271.8 L3640.8 284.2 L3644.3 296.7 L3653.2 306.3 L3662.8 311.3 L3664.8 317.4 L3653.2 317.9 L3640.8 311.8 L3628.3 303.6 L3618.7 295.3 L3610.4 288.4 L3602.1 287.0Z" fill="#5aa56d"/>
<path d="M3621.4 202.8 L3628.3 199.2 L3632.5 204.2 L3639.4 201.5 L3643.5 206.4 L3650.4 205.6 L3653.2 212.5 L3650.4 220.8 L3644.3 218.0 L3642.1 224.9 L3636.6 226.8 L3634.4 220.8 L3628.9 223.0 L3625.6 215.2 L3622.3 212.5Z" fill="#0f5389"/>
<path d="M3653.2 224.1 L3658.1 220.8 L3662.8 224.9 L3660.9 231.8 L3656.5 234.6 L3653.2 231.3Z" fill="#0f5389"/>
<path d="M3662.8 249.7 L3668.4 248.4 L3670.3 252.5 L3666.4 255.3Z" fill="#0f5389"/>
<path d="M3606.3 285.6 L3614.5 292.5 L3625.6 300.8 L3636.6 308.5 L3650.4 314.6 L3664.2 316.8 L3678.0 314.6 L3690.4 309.1 L3694.6 300.8 L3702.8 294.7 L3716.6 291.1 L3731.8 296.7 L3738.7 311.8 L3741.5 325.6 L3733.2 339.4 L3719.4 347.7 L3702.8 348.3 L3694.6 342.2 L3695.1 331.2 L3693.5 320.1 L3684.9 323.4 L3675.2 325.1 L3664.2 323.4 L3650.4 321.8 L3636.6 317.4 L3622.8 309.1 L3613.2 300.8 L3606.3 296.7Z" fill="#5aa56d"/>
<path d="M3609.0 296.7 L3625.6 307.7 L3640.8 317.4 L3636.6 320.1 L3621.4 310.5 L3608.5 300.8Z" fill="#0f5389"/>
<circle cx="3194.4" cy="585.1" r="603.4" fill="none" stroke="#1b70a9" stroke-width="14" />
<circle cx="3194.4" cy="585.1" r="595.8" fill="none" stroke="#e8f2fa" stroke-width="1.3"/>
<circle cx="3194.4" cy="585.1" r="670.3" fill="none" stroke="#0f5389" stroke-width="120"/>
<line x1="3716.0" y1="192.2" x2="3655.9" y2="159.0" stroke="#eef4fa" stroke-width="1.1"/>
<line x1="3716.0" y1="192.2" x2="3645.1" y2="166.5" stroke="#eef4fa" stroke-width="1.1"/>
<line x1="3716.0" y1="192.2" x2="3670.2" y2="225.7" stroke="#eef4fa" stroke-width="1.1"/>
<line x1="3716.0" y1="192.2" x2="3674.7" y2="233.8" stroke="#eef4fa" stroke-width="1.1"/>
<line x1="3716.0" y1="192.2" x2="3722.3" y2="257.7" stroke="#eef4fa" stroke-width="1.1"/>
<line x1="3716.0" y1="192.2" x2="3733.9" y2="256.8" stroke="#eef4fa" stroke-width="1.1"/>
<path d="M3716.0 192.2 L3670.2 225.7 L3674.7 233.8Z" fill="#ffffff" opacity="0.12"/>
<circle cx="3637.2" cy="143.6" r="24.6" fill="#c4c8d2"/>
<circle cx="3638.8" cy="142.2" r="23.2" fill="#f4f5f8"/>
<ellipse cx="3634.2" cy="135.6" rx="8.0" ry="6.0" fill="#b9bdc9"/>
<ellipse cx="3643.2" cy="139.6" rx="6.0" ry="7.0" fill="#b9bdc9"/>
<ellipse cx="3629.2" cy="146.6" rx="5.0" ry="6.0" fill="#b9bdc9"/>
<ellipse cx="3640.2" cy="150.6" rx="6.0" ry="4.0" fill="#b9bdc9"/>
<ellipse cx="3647.2" cy="147.6" rx="4.0" ry="5.0" fill="#b9bdc9"/>
<ellipse cx="3636.2" cy="142.6" rx="3.0" ry="3.0" fill="#b9bdc9"/>
<circle cx="3735.2" cy="281.0" r="23.4" fill="#c9ccd8"/>
<clipPath id="lgSun"><circle cx="3735.2" cy="281.0" r="23.4"/></clipPath>
<circle cx="3742.0" cy="277.8" r="24" fill="#fee2a4" clip-path="url(#lgSun)"/>
<path d="M3693.6 106.4 L3695.1 114.4 L3703.1 115.9 L3695.1 117.4 L3693.6 125.4 L3692.1 117.4 L3684.1 115.9 L3692.1 114.4Z" fill="#fde3a0"/>
<path d="M3680.1 121.6 L3681.1 126.6 L3686.1 127.6 L3681.1 128.5 L3680.1 133.6 L3679.2 128.5 L3674.1 127.6 L3679.2 126.6Z" fill="#ffffff"/>
<path d="M3703.4 126.7 L3704.2 130.9 L3708.4 131.7 L3704.2 132.5 L3703.4 136.7 L3702.6 132.5 L3698.4 131.7 L3702.6 130.9Z" fill="#ffffff"/>
<g transform="translate(3728.6,180.5) rotate(36)">
<rect x="-27.8" y="-22.5" width="2.7" height="36" fill="#b9bdc8"/>
<rect x="12.8" y="-15.5" width="2.7" height="36" fill="#b9bdc8"/>
<rect x="-24.3" y="-22.5" width="2.7" height="36" fill="#b9bdc8"/>
<rect x="16.3" y="-15.5" width="2.7" height="36" fill="#b9bdc8"/>
<rect x="-20.8" y="-22.5" width="2.7" height="36" fill="#b9bdc8"/>
<rect x="19.8" y="-15.5" width="2.7" height="36" fill="#b9bdc8"/>
<rect x="-17.3" y="-22.5" width="2.7" height="36" fill="#b9bdc8"/>
<rect x="23.3" y="-15.5" width="2.7" height="36" fill="#b9bdc8"/>
<rect x="-30" y="-1" width="60" height="2" fill="#d9dce4"/>
<rect x="-7" y="-1.5" width="2" height="14" fill="#e6e8ee"/><rect x="-2" y="-8" width="2" height="17" fill="#e6e8ee"/><rect x="3" y="-1.5" width="2" height="12" fill="#e6e8ee"/>
<rect x="-9" y="4" width="14" height="1.6" fill="#e6e8ee"/><rect x="-9" y="8.5" width="12" height="1.6" fill="#e6e8ee"/>
</g>
</g>
<g clip-path="url(#lgWiz)">
<path d="M3533.8 157.1 L3523.0 169.7 L3516.8 191.2 L3510.5 216.3 L3502.4 242.3 L3515.9 237.8 L3528.4 223.5 L3539.2 216.3 L3551.7 212.7 L3555.3 180.4Z" fill="#de5142"/>
<path d="M3527.0 173.3 L3521.6 194.8 L3515.9 218.1 L3506.9 238.7 L3518.6 232.5 L3529.3 218.1 L3533.8 194.8 L3532.0 176.9Z" fill="#8b211c"/>
<path d="M3533.8 180.4 L3537.0 205.6 L3533.8 219.9 L3541.0 214.5 L3543.1 194.8 L3540.1 180.4Z" fill="#b23329"/>
<path d="M3550.9 213.6 L3539.2 241.4 L3541.9 257.6 L3551.7 280.9 L3564.3 302.4 L3580.4 320.4 L3594.8 331.1 L3608.3 334.7 L3606.6 295.2 L3605.6 259.4 L3604.8 227.1 L3608.4 198.4 L3605.6 187.6 L3580.4 180.4 L3555.3 187.6Z" fill="#de5142"/>
<path d="M3555.3 223.5 L3561.6 223.5 L3564.3 259.4 L3573.3 304.2 L3566.1 298.8 L3556.2 268.3 L3550.9 241.4Z" fill="#b23329"/>
<path d="M3573.3 227.1 L3577.8 228.0 L3580.4 268.3 L3589.4 320.4 L3584.9 318.6 L3576.9 277.3Z" fill="#8b211c"/>
<path d="M3589.4 230.7 L3593.9 231.6 L3596.6 277.3 L3603.8 331.1 L3599.3 330.2 L3593.0 286.3Z" fill="#b23329"/>
<path d="M3541.0 241.4 L3547.3 237.8 L3551.7 259.4 L3558.9 286.3 L3551.7 279.1 L3543.1 257.6Z" fill="#8b211c"/>
<path d="M3603.8 228.9 L3605.6 259.4 L3607.7 332.9 L3604.8 332.0 L3603.0 277.3Z" fill="#8b211c"/>
<path d="M3551.8 184.7 L3557.6 208.8 L3606.9 218.5 L3609.8 198.2 L3601.1 186.6 L3582.8 186.6 L3567.3 192.4Z" fill="#de5142"/>
<path d="M3557.6 188.6 L3563.4 205.9 L3571.2 208.8 L3567.3 194.3Z" fill="#b23329"/>
<path d="M3577.0 192.4 L3582.8 209.8 L3589.5 212.7 L3585.7 194.3Z" fill="#b23329"/>
<path d="M3601.1 187.6 L3607.4 200.1 L3606.4 215.6 L3602.1 214.6 L3603.0 201.1Z" fill="#b23329"/>
<path d="M3563.4 148.0 L3553.8 148.9 L3546.0 152.3 L3535.4 163.4 L3522.9 171.2 L3530.6 175.0 L3544.1 175.0 L3548.9 184.2 L3557.6 186.6 L3567.3 192.6 L3577.0 190.5 L3583.2 186.6 L3596.3 190.5 L3604.0 187.6 L3601.1 175.0 L3599.2 167.3 L3577.0 157.6Z" fill="#de5142"/>
<path d="M3548.0 157.6 L3555.7 153.8 L3563.4 157.6 L3569.2 169.2 L3567.3 182.8 L3559.6 177.0 L3551.8 169.2Z" fill="#b23329" opacity="0.55"/>
<path d="M3548.9 184.2 L3557.6 186.6 L3567.3 192.6 L3577.0 190.5 L3583.2 186.6 L3580.8 182.8 L3575.0 186.6 L3567.3 188.6 L3557.6 182.8 L3549.9 179.9Z" fill="#8b211c"/>
<path d="M3599.2 166.3 L3605.9 167.3 L3611.7 177.0 L3610.8 192.4 L3607.4 200.1 L3601.1 187.6 L3600.1 177.0Z" fill="#b23329"/>
<path d="M3605.0 167.3 L3615.6 170.2 L3617.5 172.1 L3613.2 187.6 L3605.9 185.7Z" fill="#7d3418"/>
<path d="M3610.8 169.2 L3615.6 170.7 L3612.7 182.8 L3609.3 180.8Z" fill="#b5632f"/>
<path d="M3607.4 177.0 L3614.6 175.0 L3616.6 180.8 L3615.6 188.6 L3611.7 192.4 L3607.4 190.5Z" fill="#f0b377"/>
<path d="M3551.8 208.4 L3569.2 214.6 L3586.6 219.0 L3605.9 220.4" fill="none" stroke="#6f2f17" stroke-width="3.4"/>
<path d="M3551.8 207.4 L3569.2 213.5 L3586.6 217.7" fill="none" stroke="#b5632f" stroke-width="1.0"/>
<path d="M3603.5 222.6 L3598.9 230.5 L3589.8 230.5 L3585.2 222.6 L3589.8 214.6 L3598.9 214.6Z" fill="#6f2f17" stroke="#c77a3a" stroke-width="1.2"/>
<text x="3591.4" y="226.2" font-family="'Liberation Serif', serif" font-style="italic" font-weight="bold" font-size="11" fill="#d89a55">S</text>
<path d="M3562.5 144.1 L3567.3 138.3 L3577.0 132.5 L3586.6 129.1 L3596.3 128.2 L3603.0 130.6 L3606.9 137.3 L3605.9 144.1 L3601.1 151.8 L3600.1 157.6 L3600.6 167.3 L3599.2 181.8 L3592.4 186.6 L3586.6 190.0 L3581.8 186.6 L3579.9 177.0 L3577.0 167.3 L3571.2 157.6 L3566.3 151.8Z" fill="#ffffff"/>
<path d="M3580.3 140.2 L3584.7 135.4 L3591.4 133.0 L3599.2 133.5 L3604.5 138.3 L3605.5 144.1 L3603.0 149.9 L3601.1 151.8 L3600.1 157.6 L3595.3 156.7 L3589.5 157.6 L3585.7 153.8 L3581.8 149.9 L3579.4 145.1Z" fill="#f0b377"/>
<path d="M3589.5 134.0 L3598.2 133.7 L3603.5 138.3 L3601.1 142.2 L3592.4 140.2Z" fill="#f7cfa0"/>
<path d="M3580.8 148.0 L3585.2 151.8 L3586.6 156.7 L3582.8 151.8Z" fill="#d98f52"/>
<path d="M3590.5 156.7 L3596.3 154.9 L3600.1 156.7 L3599.7 161.5 L3594.3 159.6 L3590.5 160.5Z" fill="#ffffff"/>
<path d="M3592.4 146.5 L3597.2 148.0 L3601.1 147.0" fill="none" stroke="#5b3a2a" stroke-width="0.9"/>
<path d="M3577.4 140.2 L3580.8 138.8 L3581.8 144.1 L3579.4 146.5 L3577.4 144.1Z" fill="#d98f52"/>
<path d="M3534.0 121.9 L3537.3 148.0 L3541.2 174.1 L3544.1 187.6" fill="none" stroke="#a5562a" stroke-width="5.2" stroke-linecap="round"/>
<path d="M3534.6 122.9 L3538.0 148.0 L3541.9 174.1" fill="none" stroke="#dc9348" stroke-width="1.8"/>
<path d="M3543.1 194.8 L3549.1 227.1 L3554.4 255.8 L3558.9 268.3 L3561.6 280.9 L3564.3 297.9" fill="none" stroke="#a5562a" stroke-width="4.6" stroke-linejoin="round"/>
<path d="M3543.9 194.8 L3549.8 227.1 L3555.2 255.8 L3559.6 268.3" fill="none" stroke="#dc9348" stroke-width="1.5"/>
<circle cx="3532.5" cy="113.2" r="10.6" fill="#c3c7d2"/>
<circle cx="3533.4" cy="112.6" r="9.2" fill="#e3e5ec"/>
<path d="M3530.6 177.0 L3535.4 174.1 L3544.1 175.0 L3548.9 179.9 L3548.0 187.6 L3544.1 194.3 L3538.3 195.3 L3532.5 190.5 L3529.1 183.7Z" fill="#f0b377"/>
<path d="M3535.4 182.8 L3542.2 180.8 L3547.0 182.8" fill="none" stroke="#d98f52" stroke-width="1.0"/>
<path d="M3535.4 187.6 L3542.2 185.7 L3547.0 187.1" fill="none" stroke="#d98f52" stroke-width="1.0"/>
</g>
<g fill="#fff">
<text font-family="'Liberation Serif', serif" font-weight="bold"><tspan x="3526.31" y="59.60" font-size="43.3" textLength="111.26" lengthAdjust="spacingAndGlyphs">SAGE</tspan> <tspan x="3650.90" y="59.60" font-size="43.3" textLength="50.76" lengthAdjust="spacingAndGlyphs">III</tspan> <tspan x="3709.62" y="55.70" font-size="32.6" textLength="11.18" lengthAdjust="spacingAndGlyphs">•</tspan> <tspan x="3732.05" y="59.60" font-size="43.3" textLength="61.98" lengthAdjust="spacingAndGlyphs">ISS</tspan></text>
<text x="3527.8" y="71.6" font-family="'Liberation Sans', sans-serif" font-size="8" textLength="173.3" lengthAdjust="spacingAndGlyphs">Stratospheric Aerosol and Gas Experiment III</text>
<text x="3763.2" y="71.6" font-family="'Liberation Sans', sans-serif" font-size="8.7" text-anchor="middle">International</text>
<text x="3763.4" y="82.8" font-family="'Liberation Sans', sans-serif" font-size="8.7" text-anchor="middle">Space Station</text>
<text font-family="'Liberation Sans', sans-serif" font-weight="bold" font-size="17.6"><textPath href="#lgArc" startOffset="0" textLength="441.4" lengthAdjust="spacingAndGlyphs">BALL • NASA LANGLEY RESEARCH CENTER • TAS-I • ESA</textPath></text>
</g>
</g>
</svg>
</body></html>
